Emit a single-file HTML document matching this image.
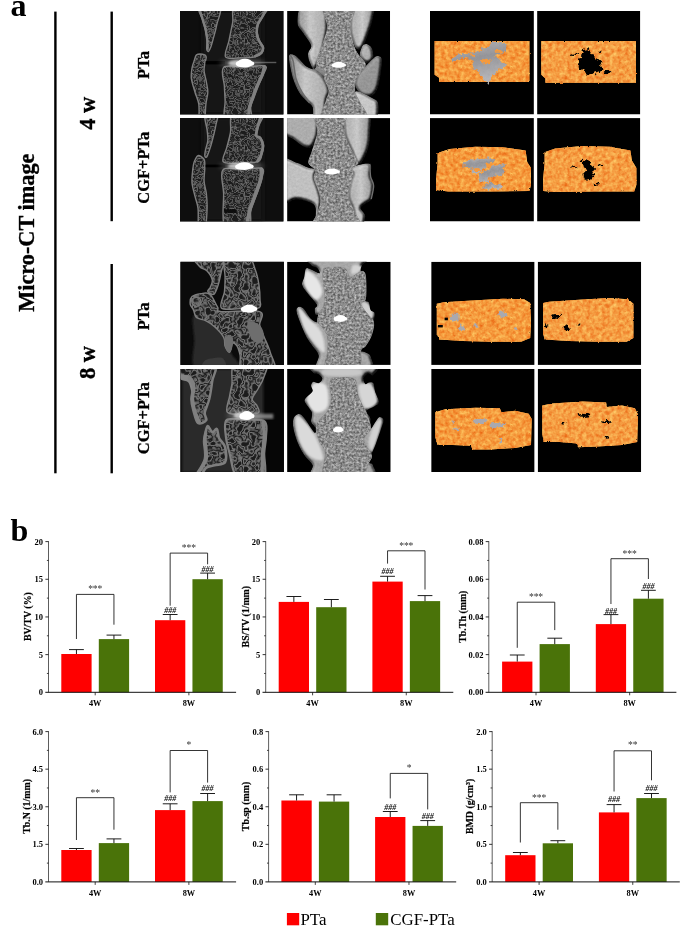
<!DOCTYPE html>
<html><head><meta charset="utf-8"><title>Micro-CT figure</title>
<style>
html,body{margin:0;padding:0;background:#fff}
body{width:685px;height:926px;overflow:hidden}
svg{display:block}
</style></head><body>
<svg width="685" height="926" viewBox="0 0 685 926">
<rect width="685" height="926" fill="#fff"/>
<g font-family='&quot;Liberation Serif&quot;, &quot;DejaVu Serif&quot;, serif' font-weight="bold" fill="#000">
<text x="10.5" y="16.3" font-size="32">a</text>
<text x="10.5" y="541" font-size="32">b</text>
<text transform="translate(33.6 232.7) rotate(-90)" text-anchor="middle" font-size="22.3" stroke="#000" stroke-width="0.35">Micro-CT image</text>
<text transform="translate(95 113.2) rotate(-90)" text-anchor="middle" font-size="22.5" stroke="#000" stroke-width="0.35">4 w</text>
<text transform="translate(95 362.5) rotate(-90)" text-anchor="middle" font-size="22.5" stroke="#000" stroke-width="0.35">8 w</text>
<text transform="translate(149.4 65) rotate(-90)" text-anchor="middle" font-size="16.5" stroke="#000" stroke-width="0.3">PTa</text>
<text transform="translate(149.4 167.7) rotate(-90)" text-anchor="middle" font-size="16.5" stroke="#000" stroke-width="0.3">CGF+PTa</text>
<text transform="translate(149.4 316.3) rotate(-90)" text-anchor="middle" font-size="16.5" stroke="#000" stroke-width="0.3">PTa</text>
<text transform="translate(149.4 418.2) rotate(-90)" text-anchor="middle" font-size="16.5" stroke="#000" stroke-width="0.3">CGF+PTa</text>
</g>
<rect x="54.2" y="11.6" width="2.4" height="461.7" fill="#000"/>
<rect x="110.5" y="11.6" width="2.4" height="209.6" fill="#000"/>
<rect x="110.5" y="264" width="2.4" height="209.3" fill="#000"/>

<defs>
<filter id="fTrab" x="-5%" y="-5%" width="110%" height="110%" color-interpolation-filters="sRGB">
  <feTurbulence type="fractalNoise" baseFrequency="0.173" numOctaves="2" seed="7" result="t"/>
  <feComponentTransfer in="t" result="m">
    <feFuncR type="discrete" tableValues="0.54"/><feFuncG type="discrete" tableValues="0.54"/><feFuncB type="discrete" tableValues="0.54"/>
    <feFuncA type="table" tableValues="0 0 0 0 0 0 0.25 0.75 0.25 0 0.55 0.55 0.05 0 0 0 0 0 0"/>
  </feComponentTransfer>
  <feComposite in="m" in2="SourceGraphic" operator="in"/>
</filter>
<filter id="fTrab2" x="-5%" y="-5%" width="110%" height="110%" color-interpolation-filters="sRGB">
  <feTurbulence type="fractalNoise" baseFrequency="0.127" numOctaves="2" seed="4" result="t"/>
  <feComponentTransfer in="t" result="m">
    <feFuncR type="discrete" tableValues="0.52"/><feFuncG type="discrete" tableValues="0.52"/><feFuncB type="discrete" tableValues="0.52"/>
    <feFuncA type="table" tableValues="0 0 0 0 0 0 0.3 0.9 0.6 0 0.6 0.85 0.2 0 0 0 0 0 0"/>
  </feComponentTransfer>
  <feComposite in="m" in2="SourceGraphic" operator="in"/>
</filter>
<filter id="fRough" x="-5%" y="-5%" width="110%" height="110%" color-interpolation-filters="sRGB">
  <feTurbulence type="fractalNoise" baseFrequency="0.43" numOctaves="2" seed="11" result="t"/>
  <feColorMatrix in="t" type="matrix" values="0.66 0 0 0 0.22  0.66 0 0 0 0.22  0.66 0 0 0 0.22  0 0 0 0 1" result="m"/>
  <feComposite in="m" in2="SourceGraphic" operator="in"/>
</filter>
<filter id="fOr" x="-5%" y="-5%" width="110%" height="110%" color-interpolation-filters="sRGB">
  <feTurbulence type="fractalNoise" baseFrequency="0.26" numOctaves="2" seed="5" result="t"/>
  <feColorMatrix in="t" type="matrix" values="0.1 0 0 0 0.91  0.5 0 0 0 0.355  0.42 0 0 0 0.03  0 0 0 0 1" result="m"/>
  <feComposite in="m" in2="SourceGraphic" operator="in"/>
</filter>
<filter id="fOr2" x="-5%" y="-5%" width="110%" height="110%" color-interpolation-filters="sRGB">
  <feTurbulence type="fractalNoise" baseFrequency="0.26" numOctaves="2" seed="9" result="t"/>
  <feColorMatrix in="t" type="matrix" values="0.1 0 0 0 0.91  0.5 0 0 0 0.365  0.42 0 0 0 0.05  0 0 0 0 1" result="m"/>
  <feComposite in="m" in2="SourceGraphic" operator="in"/>
</filter>
<filter id="fEdge" x="-5%" y="-5%" width="110%" height="110%">
  <feTurbulence type="fractalNoise" baseFrequency="0.5" numOctaves="2" seed="3" result="t"/>
  <feDisplacementMap in="SourceGraphic" in2="t" scale="2.2" xChannelSelector="R" yChannelSelector="G"/>
</filter>
<filter id="fEdgeB" x="-15%" y="-15%" width="130%" height="130%">
  <feTurbulence type="fractalNoise" baseFrequency="0.23" numOctaves="3" seed="8" result="t"/>
  <feDisplacementMap in="SourceGraphic" in2="t" scale="7" xChannelSelector="R" yChannelSelector="G"/>
</filter>
<linearGradient id="gBlob" x1="0" y1="0" x2="0.3" y2="1"><stop offset="0" stop-color="#b8b8bc"/><stop offset="0.5" stop-color="#949498"/><stop offset="1" stop-color="#b4b4b8"/></linearGradient>
<filter id="fLit" x="-10%" y="-10%" width="120%" height="120%" color-interpolation-filters="sRGB">
  <feGaussianBlur in="SourceAlpha" stdDeviation="1.6" result="b"/>
  <feDiffuseLighting in="b" surfaceScale="5" diffuseConstant="1.08" lighting-color="#fff" result="l"><feDistantLight azimuth="235" elevation="62"/></feDiffuseLighting>
  <feComposite in="l" in2="SourceGraphic" operator="arithmetic" k1="1" k2="0" k3="0" k4="0" result="m"/>
  <feComposite in="m" in2="SourceAlpha" operator="in"/>
</filter>
<filter id="fB3" x="-10%" y="-10%" width="120%" height="120%"><feGaussianBlur stdDeviation="0.3"/></filter>
<filter id="fB5" x="-10%" y="-10%" width="120%" height="120%"><feGaussianBlur stdDeviation="0.55"/></filter>
<filter id="fB10" x="-20%" y="-20%" width="140%" height="140%"><feGaussianBlur stdDeviation="1.1"/></filter>
<filter id="fB25" x="-30%" y="-30%" width="160%" height="160%"><feGaussianBlur stdDeviation="2.5"/></filter>
<linearGradient id="gWingL" x1="0" y1="0" x2="1" y2="0"><stop offset="0" stop-color="#969696"/><stop offset="0.4" stop-color="#dcdcdc"/><stop offset="1" stop-color="#b4b4b4"/></linearGradient>
<linearGradient id="gWingR" x1="0" y1="0" x2="1" y2="0"><stop offset="0" stop-color="#b4b4b4"/><stop offset="0.5" stop-color="#dedede"/><stop offset="1" stop-color="#9c9c9c"/></linearGradient>
</defs>
<clipPath id="cp1"><rect x="0.00" y="0.00" width="103.50" height="103.50"/></clipPath><g transform="translate(180 11)" clip-path="url(#cp1)"><rect x="0.00" y="0.00" width="103.50" height="103.50" fill="#000"/><rect x="-2" y="-2" width="108" height="108" fill="#0e0e0e"/><rect x="22.6" y="0" width="60.1" height="103" fill="#181818" filter="url(#fB25)"/><g filter="url(#fB3)"><path d="M18.8 -6.0C15.8 -3.5 21.4 4.8 22.6 9.0C23.7 13.3 24.8 16.0 25.6 19.5C26.3 23.1 26.9 26.9 27.1 30.1C27.3 33.2 26.5 36.6 26.8 38.3C27.0 40.0 27.9 40.7 28.6 40.3C29.2 39.9 29.9 38.5 30.8 36.1C31.7 33.6 32.8 29.3 33.8 25.6C34.8 21.8 35.8 18.8 36.8 13.5C37.9 8.3 43.3 -2.8 40.3 -6.0C37.3 -9.3 21.8 -8.5 18.8 -6.0Z" fill="#1b1b1b"/><path d="M18.8 -6.0C15.8 -3.5 21.4 4.8 22.6 9.0C23.7 13.3 24.8 16.0 25.6 19.5C26.3 23.1 26.9 26.9 27.1 30.1C27.3 33.2 26.5 36.6 26.8 38.3C27.0 40.0 27.9 40.7 28.6 40.3C29.2 39.9 29.9 38.5 30.8 36.1C31.7 33.6 32.8 29.3 33.8 25.6C34.8 21.8 35.8 18.8 36.8 13.5C37.9 8.3 43.3 -2.8 40.3 -6.0C37.3 -9.3 21.8 -8.5 18.8 -6.0Z" fill="#fff" filter="url(#fTrab)"/><path d="M18.8 -6.0C15.8 -3.5 21.4 4.8 22.6 9.0C23.7 13.3 24.8 16.0 25.6 19.5C26.3 23.1 26.9 26.9 27.1 30.1C27.3 33.2 26.5 36.6 26.8 38.3C27.0 40.0 27.9 40.7 28.6 40.3C29.2 39.9 29.9 38.5 30.8 36.1C31.7 33.6 32.8 29.3 33.8 25.6C34.8 21.8 35.8 18.8 36.8 13.5C37.9 8.3 43.3 -2.8 40.3 -6.0C37.3 -9.3 21.8 -8.5 18.8 -6.0Z" fill="none" stroke="#7e7e7e" stroke-width="1.4" stroke-linejoin="round"/><path d="M55.9 -6.0C50.2 -3.0 53.8 6.0 52.6 12.0C51.4 18.0 50.0 24.4 48.9 30.1C47.7 35.7 43.7 43.1 45.6 45.9C47.4 48.7 55.2 46.9 60.1 46.9C65.1 46.9 71.5 46.7 75.2 45.9C78.8 45.1 80.6 43.7 81.9 42.1C83.3 40.5 83.8 38.1 83.5 36.1C83.1 34.1 80.7 32.3 79.7 30.1C78.7 27.8 77.7 25.3 77.4 22.6C77.2 19.8 77.2 16.5 78.2 13.5C79.2 10.5 81.9 7.8 83.5 4.5C85.0 1.3 91.8 -4.3 87.2 -6.0C82.6 -7.8 61.7 -9.0 55.9 -6.0Z" fill="#1b1b1b"/><path d="M55.9 -6.0C50.2 -3.0 53.8 6.0 52.6 12.0C51.4 18.0 50.0 24.4 48.9 30.1C47.7 35.7 43.7 43.1 45.6 45.9C47.4 48.7 55.2 46.9 60.1 46.9C65.1 46.9 71.5 46.7 75.2 45.9C78.8 45.1 80.6 43.7 81.9 42.1C83.3 40.5 83.8 38.1 83.5 36.1C83.1 34.1 80.7 32.3 79.7 30.1C78.7 27.8 77.7 25.3 77.4 22.6C77.2 19.8 77.2 16.5 78.2 13.5C79.2 10.5 81.9 7.8 83.5 4.5C85.0 1.3 91.8 -4.3 87.2 -6.0C82.6 -7.8 61.7 -9.0 55.9 -6.0Z" fill="#fff" filter="url(#fTrab)"/><path d="M55.9 -6.0C50.2 -3.0 53.8 6.0 52.6 12.0C51.4 18.0 50.0 24.4 48.9 30.1C47.7 35.7 43.7 43.1 45.6 45.9C47.4 48.7 55.2 46.9 60.1 46.9C65.1 46.9 71.5 46.7 75.2 45.9C78.8 45.1 80.6 43.7 81.9 42.1C83.3 40.5 83.8 38.1 83.5 36.1C83.1 34.1 80.7 32.3 79.7 30.1C78.7 27.8 77.7 25.3 77.4 22.6C77.2 19.8 77.2 16.5 78.2 13.5C79.2 10.5 81.9 7.8 83.5 4.5C85.0 1.3 91.8 -4.3 87.2 -6.0C82.6 -7.8 61.7 -9.0 55.9 -6.0Z" fill="none" stroke="#7e7e7e" stroke-width="1.4" stroke-linejoin="round"/><path d="M16.5 43.9C17.9 42.9 21.0 43.0 22.6 43.3C24.2 43.6 25.8 44.3 26.2 45.9C26.5 47.4 25.2 50.2 24.8 52.6C24.5 55.0 23.8 57.1 24.1 60.1C24.3 63.2 25.7 67.2 26.3 70.7C26.9 74.2 27.9 77.4 27.8 81.2C27.7 85.0 26.4 88.5 25.9 93.2C25.3 98.0 25.4 107.0 24.4 109.8C23.3 112.5 20.5 112.5 19.5 109.8C18.6 107.0 19.5 98.0 18.8 93.2C18.0 88.5 16.3 85.5 15.0 81.2C13.8 76.9 11.9 71.7 11.4 67.7C10.9 63.7 11.6 60.1 12.0 57.1C12.5 54.1 13.5 51.8 14.3 49.6C15.0 47.4 15.2 45.0 16.5 43.9Z" fill="#1b1b1b"/><path d="M16.5 43.9C17.9 42.9 21.0 43.0 22.6 43.3C24.2 43.6 25.8 44.3 26.2 45.9C26.5 47.4 25.2 50.2 24.8 52.6C24.5 55.0 23.8 57.1 24.1 60.1C24.3 63.2 25.7 67.2 26.3 70.7C26.9 74.2 27.9 77.4 27.8 81.2C27.7 85.0 26.4 88.5 25.9 93.2C25.3 98.0 25.4 107.0 24.4 109.8C23.3 112.5 20.5 112.5 19.5 109.8C18.6 107.0 19.5 98.0 18.8 93.2C18.0 88.5 16.3 85.5 15.0 81.2C13.8 76.9 11.9 71.7 11.4 67.7C10.9 63.7 11.6 60.1 12.0 57.1C12.5 54.1 13.5 51.8 14.3 49.6C15.0 47.4 15.2 45.0 16.5 43.9Z" fill="#fff" filter="url(#fTrab)"/><path d="M16.5 43.9C17.9 42.9 21.0 43.0 22.6 43.3C24.2 43.6 25.8 44.3 26.2 45.9C26.5 47.4 25.2 50.2 24.8 52.6C24.5 55.0 23.8 57.1 24.1 60.1C24.3 63.2 25.7 67.2 26.3 70.7C26.9 74.2 27.9 77.4 27.8 81.2C27.7 85.0 26.4 88.5 25.9 93.2C25.3 98.0 25.4 107.0 24.4 109.8C23.3 112.5 20.5 112.5 19.5 109.8C18.6 107.0 19.5 98.0 18.8 93.2C18.0 88.5 16.3 85.5 15.0 81.2C13.8 76.9 11.9 71.7 11.4 67.7C10.9 63.7 11.6 60.1 12.0 57.1C12.5 54.1 13.5 51.8 14.3 49.6C15.0 47.4 15.2 45.0 16.5 43.9Z" fill="none" stroke="#7e7e7e" stroke-width="1.4" stroke-linejoin="round"/><path d="M43.6 56.4C40.2 59.6 44.1 69.5 44.4 75.2C44.6 80.8 44.9 84.5 45.1 90.2C45.4 96.0 41.7 106.5 45.9 109.8C50.0 113.0 65.8 112.0 69.9 109.8C74.1 107.5 70.0 100.0 70.7 96.2C71.3 92.5 72.4 90.7 73.7 87.2C74.9 83.7 76.6 79.2 78.2 75.2C79.8 71.2 82.3 66.5 83.5 63.2C84.6 59.8 88.2 56.1 85.1 54.9C82.0 53.7 71.6 55.7 64.7 55.9C57.7 56.2 47.0 53.2 43.6 56.4Z" fill="#1b1b1b"/><path d="M43.6 56.4C40.2 59.6 44.1 69.5 44.4 75.2C44.6 80.8 44.9 84.5 45.1 90.2C45.4 96.0 41.7 106.5 45.9 109.8C50.0 113.0 65.8 112.0 69.9 109.8C74.1 107.5 70.0 100.0 70.7 96.2C71.3 92.5 72.4 90.7 73.7 87.2C74.9 83.7 76.6 79.2 78.2 75.2C79.8 71.2 82.3 66.5 83.5 63.2C84.6 59.8 88.2 56.1 85.1 54.9C82.0 53.7 71.6 55.7 64.7 55.9C57.7 56.2 47.0 53.2 43.6 56.4Z" fill="#fff" filter="url(#fTrab)"/><path d="M43.6 56.4C40.2 59.6 44.1 69.5 44.4 75.2C44.6 80.8 44.9 84.5 45.1 90.2C45.4 96.0 41.7 106.5 45.9 109.8C50.0 113.0 65.8 112.0 69.9 109.8C74.1 107.5 70.0 100.0 70.7 96.2C71.3 92.5 72.4 90.7 73.7 87.2C74.9 83.7 76.6 79.2 78.2 75.2C79.8 71.2 82.3 66.5 83.5 63.2C84.6 59.8 88.2 56.1 85.1 54.9C82.0 53.7 71.6 55.7 64.7 55.9C57.7 56.2 47.0 53.2 43.6 56.4Z" fill="none" stroke="#7e7e7e" stroke-width="1.4" stroke-linejoin="round"/><path d="M86.0 -3.0C85.5 -1.8 84.4 1.8 83.0 4.5C81.6 7.3 78.8 10.5 77.7 13.5C76.7 16.5 76.6 19.8 76.8 22.6C77.1 25.3 78.1 27.8 79.1 30.1C80.1 32.3 82.3 34.1 82.7 36.1C83.1 38.0 82.5 40.3 81.2 41.8C79.9 43.3 76.2 44.6 75.2 45.1" fill="none" stroke="#808080" stroke-width="2.6" stroke-linecap="round"/><path d="M84.2 55.6C83.9 56.9 83.6 59.9 82.4 63.2C81.2 66.4 78.6 71.2 77.0 75.2C75.3 79.2 73.7 83.7 72.5 87.2C71.2 90.7 70.1 93.2 69.5 96.2C68.8 99.2 68.7 103.8 68.6 105.3" fill="none" stroke="#808080" stroke-width="3.2" stroke-linecap="round"/><path d="M19.2 -3.0C19.8 -1.0 21.8 5.3 22.9 9.0C24.0 12.8 25.1 16.0 25.9 19.5C26.6 23.1 27.1 27.1 27.4 30.1C27.6 33.1 27.4 36.3 27.4 37.6" fill="none" stroke="#808080" stroke-width="2.4" stroke-linecap="round"/><rect x="25.6" y="50.1" width="19.5" height="3.3" fill="#050505" filter="url(#fB5)"/></g><rect x="70.7" y="50.8" width="25.6" height="1.4" fill="#5a5a5a" filter="url(#fB5)"/><ellipse cx="62.2" cy="52.2" rx="22.4" ry="3.5" fill="#aaa" opacity="0.5" filter="url(#fB25)"/><ellipse cx="60.3" cy="52.2" rx="12.1" ry="3.5" fill="#ddd" opacity="0.8" filter="url(#fB10)"/><g filter="url(#fB5)" transform="rotate(0 65.0 52.2)" fill="#fff"><ellipse cx="65.0" cy="52.2" rx="7.5" ry="4.4"/><ellipse cx="60.8" cy="52.8" rx="5.1" ry="3.1"/><ellipse cx="69.6" cy="52.6" rx="4.7" ry="2.4"/></g></g><clipPath id="cp2"><rect x="0.10" y="0.00" width="103.00" height="103.50"/></clipPath><g transform="translate(287 11)" clip-path="url(#cp2)"><rect x="0.10" y="0.00" width="103.00" height="103.50" fill="#000"/><g filter="url(#fB3)"><path d="M25.6 45.1L40.6 45.1L40.6 70.7L25.6 60.1Z" fill="#8c8c8c" filter="url(#fLit)"/><path d="M15.0 -6.0C10.7 -3.0 10.3 7.3 10.5 12.0C10.8 16.8 14.3 18.8 16.5 22.6C18.8 26.3 23.3 31.3 24.1 34.6C24.8 37.8 21.3 39.3 21.1 42.1C20.8 44.9 21.4 48.5 22.6 51.1C23.7 53.8 25.8 58.9 27.8 57.9C29.8 56.9 32.8 49.7 34.6 45.1C36.3 40.5 37.3 35.1 38.3 30.1C39.3 25.1 40.8 21.1 40.6 15.0C40.3 9.0 41.1 -2.5 36.8 -6.0C32.6 -9.5 19.4 -9.0 15.0 -6.0Z" fill="url(#gWingL)" filter="url(#fLit)"/><path d="M66.2 -6.0C62.4 -2.5 63.4 9.5 63.2 15.0C62.9 20.5 63.7 23.3 64.7 27.1C65.7 30.8 67.4 36.0 69.2 37.6C70.9 39.2 73.2 39.3 75.2 36.8C77.2 34.3 79.4 27.4 81.2 22.6C83.0 17.7 84.9 12.3 85.7 7.5C86.5 2.8 89.3 -3.8 86.0 -6.0C82.8 -8.3 70.0 -9.5 66.2 -6.0Z" fill="url(#gWingR)" filter="url(#fLit)"/><path d="M75.2 35.3C76.3 33.3 78.1 32.7 79.7 33.1C81.3 33.5 83.9 35.1 85.0 37.6C86.0 40.1 86.9 45.7 86.0 48.1C85.1 50.5 81.9 52.4 79.7 51.9C77.5 51.4 73.7 47.9 72.9 45.1C72.2 42.4 74.1 37.3 75.2 35.3Z" fill="#c0c0c0" filter="url(#fLit)"/><path d="M85.7 48.1C87.7 46.4 88.7 45.1 90.2 45.1C91.7 45.1 94.2 45.1 94.7 48.1C95.3 51.1 94.3 58.1 93.5 63.2C92.8 68.2 91.8 74.6 90.2 78.2C88.7 81.8 86.7 84.0 84.2 85.0C81.7 86.0 77.8 85.8 75.2 84.2C72.6 82.6 69.2 78.4 68.4 75.2C67.7 71.9 69.0 67.9 70.7 64.7C72.3 61.4 75.7 58.4 78.2 55.6C80.7 52.9 83.7 49.9 85.7 48.1Z" fill="#a0a0a0" filter="url(#fLit)"/><path d="M67.7 81.2C69.4 77.4 81.8 85.2 85.7 87.2C89.6 89.2 90.7 89.5 91.3 93.2C91.8 97.0 91.7 107.0 89.0 109.8C86.3 112.5 78.7 114.5 75.2 109.8C71.6 105.0 65.9 85.0 67.7 81.2Z" fill="#dcdcdc" filter="url(#fLit)"/><path d="M3.0 43.6C4.2 42.9 6.3 43.1 9.0 45.1C11.8 47.1 16.0 53.1 19.5 55.6C23.1 58.1 27.1 58.1 30.1 60.1C33.1 62.2 35.5 64.4 37.6 67.7C39.6 70.9 42.1 75.9 42.4 79.7C42.7 83.5 40.3 85.2 39.4 90.2C38.5 95.2 38.9 106.5 36.8 109.8C34.8 113.0 28.9 112.0 27.1 109.8C25.2 107.5 26.8 99.5 25.6 96.2C24.3 93.0 21.8 92.7 19.5 90.2C17.3 87.7 14.3 85.0 12.0 81.2C9.8 77.4 7.7 72.9 6.0 67.7C4.4 62.4 2.6 53.6 2.1 49.6C1.6 45.6 1.9 44.4 3.0 43.6Z" fill="url(#gWingL)" filter="url(#fLit)"/><path d="M25.6 45.1L40.6 45.1L40.6 70.7L25.6 60.1Z" fill="#fff" filter="url(#fRough)" opacity="0.15"/><path d="M15.0 -6.0C10.7 -3.0 10.3 7.3 10.5 12.0C10.8 16.8 14.3 18.8 16.5 22.6C18.8 26.3 23.3 31.3 24.1 34.6C24.8 37.8 21.3 39.3 21.1 42.1C20.8 44.9 21.4 48.5 22.6 51.1C23.7 53.8 25.8 58.9 27.8 57.9C29.8 56.9 32.8 49.7 34.6 45.1C36.3 40.5 37.3 35.1 38.3 30.1C39.3 25.1 40.8 21.1 40.6 15.0C40.3 9.0 41.1 -2.5 36.8 -6.0C32.6 -9.5 19.4 -9.0 15.0 -6.0Z" fill="#fff" filter="url(#fRough)" opacity="0.15"/><path d="M66.2 -6.0C62.4 -2.5 63.4 9.5 63.2 15.0C62.9 20.5 63.7 23.3 64.7 27.1C65.7 30.8 67.4 36.0 69.2 37.6C70.9 39.2 73.2 39.3 75.2 36.8C77.2 34.3 79.4 27.4 81.2 22.6C83.0 17.7 84.9 12.3 85.7 7.5C86.5 2.8 89.3 -3.8 86.0 -6.0C82.8 -8.3 70.0 -9.5 66.2 -6.0Z" fill="#fff" filter="url(#fRough)" opacity="0.15"/><path d="M75.2 35.3C76.3 33.3 78.1 32.7 79.7 33.1C81.3 33.5 83.9 35.1 85.0 37.6C86.0 40.1 86.9 45.7 86.0 48.1C85.1 50.5 81.9 52.4 79.7 51.9C77.5 51.4 73.7 47.9 72.9 45.1C72.2 42.4 74.1 37.3 75.2 35.3Z" fill="#fff" filter="url(#fRough)" opacity="0.15"/><path d="M85.7 48.1C87.7 46.4 88.7 45.1 90.2 45.1C91.7 45.1 94.2 45.1 94.7 48.1C95.3 51.1 94.3 58.1 93.5 63.2C92.8 68.2 91.8 74.6 90.2 78.2C88.7 81.8 86.7 84.0 84.2 85.0C81.7 86.0 77.8 85.8 75.2 84.2C72.6 82.6 69.2 78.4 68.4 75.2C67.7 71.9 69.0 67.9 70.7 64.7C72.3 61.4 75.7 58.4 78.2 55.6C80.7 52.9 83.7 49.9 85.7 48.1Z" fill="#fff" filter="url(#fRough)" opacity="0.15"/><path d="M67.7 81.2C69.4 77.4 81.8 85.2 85.7 87.2C89.6 89.2 90.7 89.5 91.3 93.2C91.8 97.0 91.7 107.0 89.0 109.8C86.3 112.5 78.7 114.5 75.2 109.8C71.6 105.0 65.9 85.0 67.7 81.2Z" fill="#fff" filter="url(#fRough)" opacity="0.15"/><path d="M3.0 43.6C4.2 42.9 6.3 43.1 9.0 45.1C11.8 47.1 16.0 53.1 19.5 55.6C23.1 58.1 27.1 58.1 30.1 60.1C33.1 62.2 35.5 64.4 37.6 67.7C39.6 70.9 42.1 75.9 42.4 79.7C42.7 83.5 40.3 85.2 39.4 90.2C38.5 95.2 38.9 106.5 36.8 109.8C34.8 113.0 28.9 112.0 27.1 109.8C25.2 107.5 26.8 99.5 25.6 96.2C24.3 93.0 21.8 92.7 19.5 90.2C17.3 87.7 14.3 85.0 12.0 81.2C9.8 77.4 7.7 72.9 6.0 67.7C4.4 62.4 2.6 53.6 2.1 49.6C1.6 45.6 1.9 44.4 3.0 43.6Z" fill="#fff" filter="url(#fRough)" opacity="0.15"/><path d="M36.8 -6.0C32.5 -2.5 40.6 9.0 40.6 15.0C40.6 21.1 38.3 25.1 36.8 30.1C35.3 35.1 32.7 40.8 31.6 45.1C30.4 49.4 29.1 53.1 30.1 55.6C31.1 58.1 36.3 58.1 37.6 60.1C38.8 62.2 36.8 64.4 37.6 67.7C38.3 70.9 41.9 75.9 42.1 79.7C42.4 83.5 40.1 85.2 39.1 90.2C38.1 95.2 29.4 106.5 36.1 109.8C42.7 113.0 72.9 113.0 78.9 109.8C85.0 106.5 74.1 95.0 72.2 90.2C70.3 85.5 68.2 85.0 67.7 81.2C67.2 77.4 67.9 71.2 69.2 67.7C70.4 64.2 73.7 62.7 75.2 60.1C76.7 57.6 78.7 55.1 78.2 52.6C77.7 50.1 73.9 47.6 72.2 45.1C70.4 42.6 68.9 40.6 67.7 37.6C66.4 34.6 65.4 30.8 64.7 27.1C63.9 23.3 62.9 20.5 63.2 15.0C63.5 9.5 70.8 -2.5 66.5 -6.0C62.1 -9.5 41.1 -9.5 36.8 -6.0Z" fill="#8e8e8e" stroke="#8e8e8e" stroke-width="1"/><path d="M36.8 -6.0C32.5 -2.5 40.6 9.0 40.6 15.0C40.6 21.1 38.3 25.1 36.8 30.1C35.3 35.1 32.7 40.8 31.6 45.1C30.4 49.4 29.1 53.1 30.1 55.6C31.1 58.1 36.3 58.1 37.6 60.1C38.8 62.2 36.8 64.4 37.6 67.7C38.3 70.9 41.9 75.9 42.1 79.7C42.4 83.5 40.1 85.2 39.1 90.2C38.1 95.2 29.4 106.5 36.1 109.8C42.7 113.0 72.9 113.0 78.9 109.8C85.0 106.5 74.1 95.0 72.2 90.2C70.3 85.5 68.2 85.0 67.7 81.2C67.2 77.4 67.9 71.2 69.2 67.7C70.4 64.2 73.7 62.7 75.2 60.1C76.7 57.6 78.7 55.1 78.2 52.6C77.7 50.1 73.9 47.6 72.2 45.1C70.4 42.6 68.9 40.6 67.7 37.6C66.4 34.6 65.4 30.8 64.7 27.1C63.9 23.3 62.9 20.5 63.2 15.0C63.5 9.5 70.8 -2.5 66.5 -6.0C62.1 -9.5 41.1 -9.5 36.8 -6.0Z" fill="#fff" filter="url(#fRough)"/><path d="M3.0 43.6C3.5 44.6 5.0 45.6 6.0 49.6C7.0 53.6 7.5 62.4 9.0 67.7C10.5 72.9 12.8 77.2 15.0 81.2C17.3 85.2 21.3 90.0 22.6 91.7" fill="none" stroke="#6a6a6a" stroke-width="1.6"/></g><g filter="url(#fB5)" transform="rotate(0 51.9 53.8)" fill="#fff"><ellipse cx="51.9" cy="53.8" rx="5.8" ry="3.0"/><ellipse cx="48.6" cy="54.3" rx="4.0" ry="2.1"/><ellipse cx="55.5" cy="54.1" rx="3.6" ry="1.7"/></g></g><clipPath id="cp3"><rect x="0.00" y="0.00" width="103.90" height="103.50"/></clipPath><g transform="translate(430 11)" clip-path="url(#cp3)"><rect x="0.00" y="0.00" width="103.90" height="103.50" fill="#000"/><g filter="url(#fB3)"><g filter="url(#fEdge)"><path d="M4.6 30.1L99.4 30.1L99.4 71.1L9.1 71.1L9.1 66.8L4.6 63.8Z" fill="#f6a040"/></g><g filter="url(#fEdge)"><path d="M4.6 30.1L99.4 30.1L99.4 71.1L9.1 71.1L9.1 66.8L4.6 63.8Z" fill="#fff" filter="url(#fOr)"/></g><g filter="url(#fEdgeB)"><path d="M66.8 30.4C70.3 30.1 76.4 32.9 77.4 34.9C78.4 36.9 74.9 41.0 72.9 42.5C70.9 44.0 65.5 42.8 65.3 44.0C65.0 45.3 69.8 48.1 71.4 50.1C72.9 52.1 75.2 54.4 74.4 56.2C73.6 57.9 68.8 59.0 66.8 60.7C64.8 62.5 63.8 65.0 62.2 66.8C60.7 68.6 59.5 71.4 57.7 71.4C55.9 71.4 52.9 68.6 51.6 66.8C50.4 65.0 51.4 62.2 50.1 60.7C48.8 59.2 45.3 59.5 44.0 57.7C42.8 55.9 44.0 51.9 42.5 50.1C41.0 48.3 38.0 47.1 34.9 47.1C31.9 47.1 26.3 50.4 24.3 50.1C22.3 49.8 21.3 46.8 22.8 45.5C24.3 44.3 29.9 43.3 33.4 42.5C36.9 41.8 40.2 42.0 44.0 41.0C47.8 40.0 52.4 38.2 56.2 36.4C60.0 34.7 63.3 30.6 66.8 30.4Z" fill="url(#gBlob)"/></g><g filter="url(#fEdgeB)"><ellipse cx="55.8" cy="50.1" rx="4.9" ry="2.3" fill="#f59a3c"/></g><g filter="url(#fEdgeB)"><ellipse cx="68.7" cy="40.2" rx="4.2" ry="1.5" fill="#f59a3c"/></g><g filter="url(#fEdgeB)"><ellipse cx="42.1" cy="44.4" rx="3.4" ry="1.1" fill="#f59a3c"/></g><g filter="url(#fEdgeB)"><ellipse cx="69.8" cy="58.5" rx="3.0" ry="1.5" fill="#f59a3c"/></g><g filter="url(#fEdgeB)"><ellipse cx="48.2" cy="62.6" rx="2.7" ry="1.9" fill="#f59a3c"/></g></g></g><clipPath id="cp4"><rect x="0.10" y="0.00" width="103.20" height="103.50"/></clipPath><g transform="translate(537 11)" clip-path="url(#cp4)"><rect x="0.10" y="0.00" width="103.20" height="103.50" fill="#000"/><g filter="url(#fB3)"><g filter="url(#fEdge)"><path d="M4.3 30.1L99.0 30.1L99.0 71.7L8.4 71.7L8.4 67.6L4.3 63.8Z" fill="#f6a040"/></g><g filter="url(#fEdge)"><path d="M4.3 30.1L99.0 30.1L99.0 71.7L8.4 71.7L8.4 67.6L4.3 63.8Z" fill="#fff" filter="url(#fOr2)"/></g><g filter="url(#fEdgeB)"><path d="M45.5 39.5C47.1 38.3 51.4 38.0 53.1 38.7C54.9 39.5 54.9 42.4 56.2 44.0C57.4 45.7 59.2 47.1 60.7 48.6C62.2 50.1 64.8 51.4 65.3 53.1C65.8 54.9 65.3 57.7 63.8 59.2C62.2 60.7 58.2 61.6 56.2 62.2C54.2 62.9 53.1 63.5 51.6 63.0C50.1 62.5 48.8 60.4 47.1 59.2C45.3 58.1 41.9 57.7 41.0 56.2C40.1 54.7 41.2 51.9 41.8 50.1C42.3 48.3 43.4 47.3 44.0 45.5C44.7 43.8 44.0 40.6 45.5 39.5Z" fill="#000"/></g><g filter="url(#fEdgeB)"><ellipse cx="37.6" cy="43.7" rx="3.4" ry="1.2" fill="#000"/></g><g filter="url(#fEdgeB)"><ellipse cx="70.6" cy="61.1" rx="3.8" ry="1.4" fill="#000"/></g><g filter="url(#fEdgeB)"><ellipse cx="63.0" cy="40.0" rx="1.5" ry="1.0" fill="#000"/></g></g></g><clipPath id="cp5"><rect x="0.00" y="0.10" width="103.50" height="103.40"/></clipPath><g transform="translate(180 118)" clip-path="url(#cp5)"><rect x="0.00" y="0.10" width="103.50" height="103.40" fill="#000"/><rect x="-2" y="-2" width="108" height="108" fill="#0e0e0e"/><rect x="22.6" y="0" width="60.1" height="103" fill="#181818" filter="url(#fB25)"/><g filter="url(#fB3)"><path d="M24.8 -6.0C23.1 -3.0 26.6 7.3 27.1 12.0C27.6 16.8 28.1 19.3 27.8 22.6C27.6 25.8 26.1 29.1 25.6 31.6C25.1 34.1 24.6 36.4 24.8 37.6C25.0 38.8 25.9 40.0 26.8 38.8C27.6 37.5 28.9 33.8 30.1 30.1C31.3 26.4 32.8 20.5 33.8 16.5C34.8 12.5 35.5 9.8 36.1 6.0C36.7 2.3 39.5 -4.0 37.6 -6.0C35.7 -8.0 26.6 -9.0 24.8 -6.0Z" fill="#1b1b1b"/><path d="M24.8 -6.0C23.1 -3.0 26.6 7.3 27.1 12.0C27.6 16.8 28.1 19.3 27.8 22.6C27.6 25.8 26.1 29.1 25.6 31.6C25.1 34.1 24.6 36.4 24.8 37.6C25.0 38.8 25.9 40.0 26.8 38.8C27.6 37.5 28.9 33.8 30.1 30.1C31.3 26.4 32.8 20.5 33.8 16.5C34.8 12.5 35.5 9.8 36.1 6.0C36.7 2.3 39.5 -4.0 37.6 -6.0C35.7 -8.0 26.6 -9.0 24.8 -6.0Z" fill="#fff" filter="url(#fTrab)"/><path d="M24.8 -6.0C23.1 -3.0 26.6 7.3 27.1 12.0C27.6 16.8 28.1 19.3 27.8 22.6C27.6 25.8 26.1 29.1 25.6 31.6C25.1 34.1 24.6 36.4 24.8 37.6C25.0 38.8 25.9 40.0 26.8 38.8C27.6 37.5 28.9 33.8 30.1 30.1C31.3 26.4 32.8 20.5 33.8 16.5C34.8 12.5 35.5 9.8 36.1 6.0C36.7 2.3 39.5 -4.0 37.6 -6.0C35.7 -8.0 26.6 -9.0 24.8 -6.0Z" fill="none" stroke="#7e7e7e" stroke-width="1.4" stroke-linejoin="round"/><path d="M53.7 -6.0C48.3 -2.5 51.6 9.0 50.4 15.0C49.2 21.1 47.8 25.3 46.6 30.1C45.4 34.9 41.0 41.4 43.3 43.9C45.6 46.4 54.3 45.2 60.1 45.1C66.0 45.1 74.6 45.1 78.2 43.6C81.8 42.1 81.1 38.8 81.9 36.1C82.8 33.3 83.7 29.8 83.5 27.1C83.2 24.3 81.6 21.1 80.4 19.5C79.3 18.0 77.1 19.8 76.7 18.0C76.3 16.3 77.2 13.0 78.2 9.0C79.1 5.0 86.5 -3.5 82.4 -6.0C78.3 -8.5 59.0 -9.5 53.7 -6.0Z" fill="#1b1b1b"/><path d="M53.7 -6.0C48.3 -2.5 51.6 9.0 50.4 15.0C49.2 21.1 47.8 25.3 46.6 30.1C45.4 34.9 41.0 41.4 43.3 43.9C45.6 46.4 54.3 45.2 60.1 45.1C66.0 45.1 74.6 45.1 78.2 43.6C81.8 42.1 81.1 38.8 81.9 36.1C82.8 33.3 83.7 29.8 83.5 27.1C83.2 24.3 81.6 21.1 80.4 19.5C79.3 18.0 77.1 19.8 76.7 18.0C76.3 16.3 77.2 13.0 78.2 9.0C79.1 5.0 86.5 -3.5 82.4 -6.0C78.3 -8.5 59.0 -9.5 53.7 -6.0Z" fill="#fff" filter="url(#fTrab)"/><path d="M53.7 -6.0C48.3 -2.5 51.6 9.0 50.4 15.0C49.2 21.1 47.8 25.3 46.6 30.1C45.4 34.9 41.0 41.4 43.3 43.9C45.6 46.4 54.3 45.2 60.1 45.1C66.0 45.1 74.6 45.1 78.2 43.6C81.8 42.1 81.1 38.8 81.9 36.1C82.8 33.3 83.7 29.8 83.5 27.1C83.2 24.3 81.6 21.1 80.4 19.5C79.3 18.0 77.1 19.8 76.7 18.0C76.3 16.3 77.2 13.0 78.2 9.0C79.1 5.0 86.5 -3.5 82.4 -6.0C78.3 -8.5 59.0 -9.5 53.7 -6.0Z" fill="none" stroke="#7e7e7e" stroke-width="1.4" stroke-linejoin="round"/><path d="M18.0 37.6C19.7 37.2 22.9 39.3 24.1 41.4C25.2 43.4 24.8 46.0 24.8 49.6C24.8 53.3 23.8 58.9 24.1 63.2C24.3 67.4 25.8 70.7 26.3 75.2C26.8 79.7 27.3 84.5 27.1 90.2C26.9 96.0 26.5 106.5 25.1 109.8C23.7 113.0 20.0 113.0 18.8 109.8C17.6 106.5 18.7 95.5 18.0 90.2C17.4 85.0 16.0 82.5 15.0 78.2C14.0 73.9 12.4 69.2 12.0 64.7C11.7 60.1 12.4 54.6 12.8 51.1C13.2 47.6 13.4 45.9 14.3 43.6C15.2 41.4 16.4 38.0 18.0 37.6Z" fill="#1b1b1b"/><path d="M18.0 37.6C19.7 37.2 22.9 39.3 24.1 41.4C25.2 43.4 24.8 46.0 24.8 49.6C24.8 53.3 23.8 58.9 24.1 63.2C24.3 67.4 25.8 70.7 26.3 75.2C26.8 79.7 27.3 84.5 27.1 90.2C26.9 96.0 26.5 106.5 25.1 109.8C23.7 113.0 20.0 113.0 18.8 109.8C17.6 106.5 18.7 95.5 18.0 90.2C17.4 85.0 16.0 82.5 15.0 78.2C14.0 73.9 12.4 69.2 12.0 64.7C11.7 60.1 12.4 54.6 12.8 51.1C13.2 47.6 13.4 45.9 14.3 43.6C15.2 41.4 16.4 38.0 18.0 37.6Z" fill="#fff" filter="url(#fTrab)"/><path d="M18.0 37.6C19.7 37.2 22.9 39.3 24.1 41.4C25.2 43.4 24.8 46.0 24.8 49.6C24.8 53.3 23.8 58.9 24.1 63.2C24.3 67.4 25.8 70.7 26.3 75.2C26.8 79.7 27.3 84.5 27.1 90.2C26.9 96.0 26.5 106.5 25.1 109.8C23.7 113.0 20.0 113.0 18.8 109.8C17.6 106.5 18.7 95.5 18.0 90.2C17.4 85.0 16.0 82.5 15.0 78.2C14.0 73.9 12.4 69.2 12.0 64.7C11.7 60.1 12.4 54.6 12.8 51.1C13.2 47.6 13.4 45.9 14.3 43.6C15.2 41.4 16.4 38.0 18.0 37.6Z" fill="none" stroke="#7e7e7e" stroke-width="1.4" stroke-linejoin="round"/><path d="M42.9 51.9C39.6 55.8 43.2 65.5 43.6 75.2C44.0 84.8 41.0 104.0 45.1 109.8C49.2 115.5 64.2 112.5 68.4 109.8C72.7 107.0 69.8 97.5 70.7 93.2C71.5 89.0 72.4 87.7 73.7 84.2C74.9 80.7 76.8 76.2 78.2 72.2C79.6 68.2 81.3 63.8 81.9 60.1C82.6 56.5 85.4 51.8 82.2 50.4C79.1 48.9 69.7 51.2 63.2 51.4C56.6 51.7 46.1 47.9 42.9 51.9Z" fill="#1b1b1b"/><path d="M42.9 51.9C39.6 55.8 43.2 65.5 43.6 75.2C44.0 84.8 41.0 104.0 45.1 109.8C49.2 115.5 64.2 112.5 68.4 109.8C72.7 107.0 69.8 97.5 70.7 93.2C71.5 89.0 72.4 87.7 73.7 84.2C74.9 80.7 76.8 76.2 78.2 72.2C79.6 68.2 81.3 63.8 81.9 60.1C82.6 56.5 85.4 51.8 82.2 50.4C79.1 48.9 69.7 51.2 63.2 51.4C56.6 51.7 46.1 47.9 42.9 51.9Z" fill="#fff" filter="url(#fTrab)"/><path d="M42.9 51.9C39.6 55.8 43.2 65.5 43.6 75.2C44.0 84.8 41.0 104.0 45.1 109.8C49.2 115.5 64.2 112.5 68.4 109.8C72.7 107.0 69.8 97.5 70.7 93.2C71.5 89.0 72.4 87.7 73.7 84.2C74.9 80.7 76.8 76.2 78.2 72.2C79.6 68.2 81.3 63.8 81.9 60.1C82.6 56.5 85.4 51.8 82.2 50.4C79.1 48.9 69.7 51.2 63.2 51.4C56.6 51.7 46.1 47.9 42.9 51.9Z" fill="none" stroke="#7e7e7e" stroke-width="1.4" stroke-linejoin="round"/><path d="M81.3 -3.0C80.7 -1.0 78.4 5.6 77.6 9.0C76.7 12.5 75.8 15.9 76.2 17.7C76.6 19.5 78.9 18.3 80.0 19.8C81.1 21.4 82.6 24.4 82.9 27.1C83.1 29.8 82.2 33.4 81.3 36.1C80.5 38.7 78.2 41.9 77.6 43.0" fill="none" stroke="#808080" stroke-width="2.8" stroke-linecap="round"/><path d="M81.2 51.1C81.1 52.6 81.6 56.6 80.9 60.1C80.2 63.7 78.4 68.2 77.0 72.2C75.6 76.2 73.7 80.7 72.5 84.2C71.2 87.7 70.3 89.7 69.5 93.2C68.6 96.7 67.6 103.3 67.2 105.3" fill="none" stroke="#808080" stroke-width="3.6" stroke-linecap="round"/><rect x="25.6" y="46.6" width="19.5" height="2.7" fill="#050505" filter="url(#fB5)"/><rect x="44.4" y="91.4" width="12.0" height="3.3" fill="#080808" filter="url(#fB5)"/></g><ellipse cx="61.6" cy="48.1" rx="22.4" ry="3.1" fill="#aaa" opacity="0.5" filter="url(#fB25)"/><ellipse cx="59.7" cy="48.1" rx="12.1" ry="3.1" fill="#ddd" opacity="0.8" filter="url(#fB10)"/><g filter="url(#fB5)" transform="rotate(0 64.4 48.1)" fill="#fff"><ellipse cx="64.4" cy="48.1" rx="7.5" ry="3.9"/><ellipse cx="60.2" cy="48.7" rx="5.1" ry="2.7"/><ellipse cx="69.0" cy="48.5" rx="4.7" ry="2.2"/></g></g><clipPath id="cp6"><rect x="0.10" y="0.10" width="103.00" height="103.40"/></clipPath><g transform="translate(287 118)" clip-path="url(#cp6)"><rect x="0.10" y="0.10" width="103.00" height="103.40" fill="#000"/><g filter="url(#fB3)"><path d="M-6.0 -6.0C-11.7 -2.8 -8.0 9.0 -6.0 13.5C-4.0 18.0 2.3 18.5 6.0 21.1C9.8 23.6 13.5 27.2 16.5 28.6C19.5 29.9 22.1 30.3 24.1 29.3C26.1 28.3 27.4 25.4 28.6 22.6C29.7 19.7 31.2 16.8 31.1 12.0C31.1 7.3 34.3 -3.0 28.1 -6.0C21.9 -9.0 -0.3 -9.3 -6.0 -6.0Z" fill="#bcbcbc" filter="url(#fLit)"/><path d="M57.9 -6.0C53.8 -3.8 57.0 3.3 57.1 7.5C57.3 11.8 57.4 15.3 58.6 19.5C59.9 23.8 62.7 28.7 64.7 33.1C66.7 37.5 68.9 44.1 70.7 45.9C72.4 47.6 73.4 46.2 75.2 43.6C76.9 41.0 79.9 34.8 81.2 30.1C82.5 25.3 83.0 21.1 83.0 15.0C83.1 9.0 85.7 -2.5 81.5 -6.0C77.3 -9.5 62.0 -8.3 57.9 -6.0Z" fill="url(#gWingR)" filter="url(#fLit)"/><path d="M-6.0 42.9C-3.5 36.3 4.5 43.2 9.0 44.4C13.5 45.5 17.7 48.4 21.1 49.6C24.4 50.9 28.2 50.1 29.3 51.9C30.4 53.6 27.4 56.8 27.8 60.1C28.2 63.5 30.8 68.2 31.9 72.2C33.0 76.2 34.5 80.2 34.3 84.2C34.1 88.2 31.9 92.0 30.8 96.2C29.7 100.5 28.2 110.8 27.8 109.8C27.4 108.8 29.4 94.5 28.6 90.2C27.7 86.0 25.8 85.7 22.6 84.2C19.3 82.7 13.8 81.2 9.0 81.2C4.3 81.1 -3.5 90.3 -6.0 83.9C-8.5 77.5 -8.5 49.4 -6.0 42.9Z" fill="#d4d4d4" filter="url(#fLit)"/><path d="M63.9 49.9C66.7 48.0 79.4 44.4 82.7 45.9C86.0 47.3 83.0 55.0 83.6 58.6C84.3 62.3 86.5 63.9 86.6 67.7C86.7 71.4 85.6 78.2 84.2 81.2C82.8 84.2 79.9 84.2 78.2 85.7C76.4 87.2 73.7 88.2 73.7 90.2C73.7 92.2 77.9 94.5 78.2 97.7C78.4 101.0 76.6 107.8 75.2 109.8C73.8 111.8 71.4 112.8 69.9 109.8C68.4 106.8 67.5 96.7 66.2 91.7C64.8 86.7 62.2 84.0 61.6 79.7C61.1 75.4 62.4 69.9 63.2 66.2C63.9 62.4 66.0 59.8 66.2 57.1C66.3 54.4 61.1 51.8 63.9 49.9Z" fill="url(#gWingR)" filter="url(#fLit)"/><path d="M-6.0 -6.0C-11.7 -2.8 -8.0 9.0 -6.0 13.5C-4.0 18.0 2.3 18.5 6.0 21.1C9.8 23.6 13.5 27.2 16.5 28.6C19.5 29.9 22.1 30.3 24.1 29.3C26.1 28.3 27.4 25.4 28.6 22.6C29.7 19.7 31.2 16.8 31.1 12.0C31.1 7.3 34.3 -3.0 28.1 -6.0C21.9 -9.0 -0.3 -9.3 -6.0 -6.0Z" fill="#fff" filter="url(#fRough)" opacity="0.15"/><path d="M57.9 -6.0C53.8 -3.8 57.0 3.3 57.1 7.5C57.3 11.8 57.4 15.3 58.6 19.5C59.9 23.8 62.7 28.7 64.7 33.1C66.7 37.5 68.9 44.1 70.7 45.9C72.4 47.6 73.4 46.2 75.2 43.6C76.9 41.0 79.9 34.8 81.2 30.1C82.5 25.3 83.0 21.1 83.0 15.0C83.1 9.0 85.7 -2.5 81.5 -6.0C77.3 -9.5 62.0 -8.3 57.9 -6.0Z" fill="#fff" filter="url(#fRough)" opacity="0.15"/><path d="M-6.0 42.9C-3.5 36.3 4.5 43.2 9.0 44.4C13.5 45.5 17.7 48.4 21.1 49.6C24.4 50.9 28.2 50.1 29.3 51.9C30.4 53.6 27.4 56.8 27.8 60.1C28.2 63.5 30.8 68.2 31.9 72.2C33.0 76.2 34.5 80.2 34.3 84.2C34.1 88.2 31.9 92.0 30.8 96.2C29.7 100.5 28.2 110.8 27.8 109.8C27.4 108.8 29.4 94.5 28.6 90.2C27.7 86.0 25.8 85.7 22.6 84.2C19.3 82.7 13.8 81.2 9.0 81.2C4.3 81.1 -3.5 90.3 -6.0 83.9C-8.5 77.5 -8.5 49.4 -6.0 42.9Z" fill="#fff" filter="url(#fRough)" opacity="0.15"/><path d="M63.9 49.9C66.7 48.0 79.4 44.4 82.7 45.9C86.0 47.3 83.0 55.0 83.6 58.6C84.3 62.3 86.5 63.9 86.6 67.7C86.7 71.4 85.6 78.2 84.2 81.2C82.8 84.2 79.9 84.2 78.2 85.7C76.4 87.2 73.7 88.2 73.7 90.2C73.7 92.2 77.9 94.5 78.2 97.7C78.4 101.0 76.6 107.8 75.2 109.8C73.8 111.8 71.4 112.8 69.9 109.8C68.4 106.8 67.5 96.7 66.2 91.7C64.8 86.7 62.2 84.0 61.6 79.7C61.1 75.4 62.4 69.9 63.2 66.2C63.9 62.4 66.0 59.8 66.2 57.1C66.3 54.4 61.1 51.8 63.9 49.9Z" fill="#fff" filter="url(#fRough)" opacity="0.15"/><path d="M27.8 -6.0C23.3 -3.0 30.7 7.3 30.8 12.0C31.0 16.8 29.6 18.8 28.6 22.6C27.6 26.3 25.9 30.8 24.8 34.6C23.7 38.3 21.2 42.2 21.8 45.1C22.4 48.0 27.7 49.4 28.6 51.9C29.4 54.4 26.6 56.8 27.1 60.1C27.6 63.5 30.4 68.2 31.6 72.2C32.7 76.2 34.1 80.2 33.8 84.2C33.6 88.2 31.1 92.0 30.1 96.2C29.1 100.5 20.9 107.5 27.8 109.8C34.7 112.0 65.0 112.8 71.4 109.8C77.8 106.8 67.8 96.7 66.2 91.7C64.5 86.7 62.2 84.0 61.6 79.7C61.1 75.4 62.4 69.9 63.2 66.2C63.9 62.4 65.9 59.9 66.2 57.1C66.5 54.4 64.2 51.6 65.0 49.6C65.7 47.6 70.7 47.9 70.7 45.1C70.6 42.4 66.7 37.3 64.7 33.1C62.7 28.8 59.9 23.8 58.6 19.5C57.4 15.3 57.2 11.8 57.1 7.5C57.1 3.3 63.1 -3.8 58.2 -6.0C53.3 -8.3 32.4 -9.0 27.8 -6.0Z" fill="#8e8e8e" stroke="#8e8e8e" stroke-width="1"/><path d="M27.8 -6.0C23.3 -3.0 30.7 7.3 30.8 12.0C31.0 16.8 29.6 18.8 28.6 22.6C27.6 26.3 25.9 30.8 24.8 34.6C23.7 38.3 21.2 42.2 21.8 45.1C22.4 48.0 27.7 49.4 28.6 51.9C29.4 54.4 26.6 56.8 27.1 60.1C27.6 63.5 30.4 68.2 31.6 72.2C32.7 76.2 34.1 80.2 33.8 84.2C33.6 88.2 31.1 92.0 30.1 96.2C29.1 100.5 20.9 107.5 27.8 109.8C34.7 112.0 65.0 112.8 71.4 109.8C77.8 106.8 67.8 96.7 66.2 91.7C64.5 86.7 62.2 84.0 61.6 79.7C61.1 75.4 62.4 69.9 63.2 66.2C63.9 62.4 65.9 59.9 66.2 57.1C66.5 54.4 64.2 51.6 65.0 49.6C65.7 47.6 70.7 47.9 70.7 45.1C70.6 42.4 66.7 37.3 64.7 33.1C62.7 28.8 59.9 23.8 58.6 19.5C57.4 15.3 57.2 11.8 57.1 7.5C57.1 3.3 63.1 -3.8 58.2 -6.0C53.3 -8.3 32.4 -9.0 27.8 -6.0Z" fill="#fff" filter="url(#fRough)"/><path d="M82.7 45.9C82.9 48.0 83.0 55.0 83.6 58.6C84.3 62.3 86.5 63.9 86.6 67.7C86.7 71.4 84.6 78.9 84.2 81.2" fill="none" stroke="#707070" stroke-width="1.4"/></g><g filter="url(#fB5)" transform="rotate(0 45.1 53.4)" fill="#fff"><ellipse cx="45.1" cy="53.4" rx="6.3" ry="3.0"/><ellipse cx="41.6" cy="53.8" rx="4.3" ry="2.1"/><ellipse cx="49.0" cy="53.7" rx="3.9" ry="1.7"/></g></g><clipPath id="cp7"><rect x="0.00" y="0.10" width="103.90" height="103.40"/></clipPath><g transform="translate(430 118)" clip-path="url(#cp7)"><rect x="0.00" y="0.10" width="103.90" height="103.40" fill="#000"/><g filter="url(#fB3)"><g filter="url(#fEdge)"><path d="M7.6 34.9L19.7 31.1L45.5 28.8L72.9 29.2L95.6 32.6L97.2 44.0L101.0 50.1L101.0 66.8L99.4 72.9L60.7 73.6L18.2 73.6L6.1 72.1L6.1 60.7L7.6 45.5Z" fill="#f6a040"/></g><g filter="url(#fEdge)"><path d="M7.6 34.9L19.7 31.1L45.5 28.8L72.9 29.2L95.6 32.6L97.2 44.0L101.0 50.1L101.0 66.8L99.4 72.9L60.7 73.6L18.2 73.6L6.1 72.1L6.1 60.7L7.6 45.5Z" fill="#fff" filter="url(#fOr)"/></g><g filter="url(#fEdgeB)"><path d="M36.4 42.5C38.2 41.1 42.5 41.5 45.5 41.0C48.6 40.5 51.4 39.5 54.7 39.5C57.9 39.5 64.3 40.0 65.3 41.0C66.3 42.0 62.5 44.0 60.7 45.5C59.0 47.1 56.7 48.6 54.7 50.1C52.6 51.6 50.9 53.9 48.6 54.7C46.3 55.4 42.0 55.4 41.0 54.7C40.0 53.9 43.5 51.0 42.5 50.1C41.5 49.2 35.9 50.6 34.9 49.3C33.9 48.1 34.7 43.9 36.4 42.5Z" fill="url(#gBlob)"/></g><g filter="url(#fEdgeB)"><path d="M60.7 48.6C63.8 47.7 73.9 45.5 75.9 46.3C77.9 47.1 73.6 51.2 72.9 53.1C72.1 55.0 73.4 56.9 71.4 57.7C69.3 58.5 63.0 56.7 60.7 57.7C58.5 58.7 59.5 63.0 57.7 63.8C55.9 64.5 51.4 63.5 50.1 62.2C48.8 61.0 48.8 57.9 50.1 56.2C51.4 54.4 55.9 52.9 57.7 51.6C59.5 50.4 57.7 49.5 60.7 48.6Z" fill="url(#gBlob)"/></g><g filter="url(#fEdgeB)"><path d="M60.7 62.2C62.2 62.2 63.5 66.0 65.3 66.8C67.1 67.6 70.6 66.0 71.4 66.8C72.1 67.6 72.9 70.7 69.8 71.4C66.8 72.0 55.4 71.4 53.1 70.6C50.9 69.8 54.9 68.2 56.2 66.8C57.4 65.4 59.2 62.2 60.7 62.2Z" fill="url(#gBlob)"/></g><g filter="url(#fEdgeB)"><ellipse cx="59.2" cy="47.4" rx="3.0" ry="1.9" fill="#f59a3c"/></g><g filter="url(#fEdgeB)"><ellipse cx="47.1" cy="51.6" rx="3.0" ry="1.5" fill="#f59a3c"/></g><g filter="url(#fEdgeB)"><ellipse cx="68.3" cy="60.7" rx="3.0" ry="1.5" fill="#f59a3c"/></g></g></g><clipPath id="cp8"><rect x="0.10" y="0.10" width="103.20" height="103.40"/></clipPath><g transform="translate(537 118)" clip-path="url(#cp8)"><rect x="0.10" y="0.10" width="103.20" height="103.40" fill="#000"/><g filter="url(#fB3)"><g filter="url(#fEdge)"><path d="M7.6 34.2L18.2 30.4L45.5 28.1L72.9 28.8L93.4 32.6L94.9 42.5L99.4 50.1L99.4 66.8L97.2 73.6L60.7 73.6L18.2 74.1L6.1 72.9L6.1 60.7L7.6 45.5Z" fill="#f6a040"/></g><g filter="url(#fEdge)"><path d="M7.6 34.2L18.2 30.4L45.5 28.1L72.9 28.8L93.4 32.6L94.9 42.5L99.4 50.1L99.4 66.8L97.2 73.6L60.7 73.6L18.2 74.1L6.1 72.9L6.1 60.7L7.6 45.5Z" fill="#fff" filter="url(#fOr2)"/></g><g filter="url(#fEdgeB)"><path d="M47.1 42.5C48.5 41.9 52.9 42.3 53.9 43.3C54.9 44.3 52.5 47.4 53.1 48.6C53.8 49.7 57.2 48.8 57.7 50.1C58.2 51.4 56.9 54.4 56.2 56.2C55.4 57.9 54.4 59.8 53.1 60.7C51.9 61.6 49.8 62.2 48.6 61.5C47.3 60.7 45.5 57.8 45.5 56.2C45.5 54.5 48.6 53.1 48.6 51.6C48.6 50.1 45.8 48.6 45.5 47.1C45.3 45.5 45.7 43.1 47.1 42.5Z" fill="#000"/></g><g filter="url(#fEdgeB)"><ellipse cx="36.8" cy="49.0" rx="2.7" ry="1.1" fill="#000"/></g><g filter="url(#fEdgeB)"><ellipse cx="60.7" cy="66.0" rx="3.0" ry="1.5" fill="#000"/></g><g filter="url(#fEdgeB)"><ellipse cx="44.0" cy="42.0" rx="1.5" ry="1.3" fill="#000"/></g><g filter="url(#fEdgeB)"><ellipse cx="63.0" cy="47.4" rx="2.3" ry="1.1" fill="#000"/></g></g></g><clipPath id="cp9"><rect x="0.40" y="-0.30" width="103.50" height="103.20"/></clipPath><g transform="translate(180 262)" clip-path="url(#cp9)"><rect x="0.40" y="-0.30" width="103.50" height="103.20" fill="#000"/><rect x="-2" y="-2" width="108" height="108" fill="#0b0b0b"/><path d="M14.7 52.5C18.9 50.1 33.4 57.6 39.4 63.9C45.4 70.2 47.2 83.1 50.7 90.5C54.1 97.9 65.8 105.3 60.1 108.3C54.5 111.2 24.2 113.3 16.5 108.3C8.9 103.3 14.6 87.5 14.3 78.2C14.0 68.9 10.6 54.9 14.7 52.5Z" fill="#2c2c2c" filter="url(#fB10)"/><g filter="url(#fB3)"><path d="M14.3 -6.0C10.2 -4.3 17.4 2.0 19.5 4.5C21.7 7.0 24.9 6.8 27.1 9.0C29.2 11.3 31.8 15.3 32.3 18.0C32.8 20.8 30.8 23.7 30.1 25.6C29.3 27.4 27.2 28.2 27.8 29.3C28.4 30.4 32.1 33.5 33.8 32.3C35.6 31.2 37.1 26.4 38.3 22.6C39.6 18.7 40.4 13.8 41.4 9.0C42.3 4.3 48.4 -3.5 43.9 -6.0C39.4 -8.5 18.3 -7.8 14.3 -6.0Z" fill="#1b1b1b"/><path d="M14.3 -6.0C10.2 -4.3 17.4 2.0 19.5 4.5C21.7 7.0 24.9 6.8 27.1 9.0C29.2 11.3 31.8 15.3 32.3 18.0C32.8 20.8 30.8 23.7 30.1 25.6C29.3 27.4 27.2 28.2 27.8 29.3C28.4 30.4 32.1 33.5 33.8 32.3C35.6 31.2 37.1 26.4 38.3 22.6C39.6 18.7 40.4 13.8 41.4 9.0C42.3 4.3 48.4 -3.5 43.9 -6.0C39.4 -8.5 18.3 -7.8 14.3 -6.0Z" fill="#fff" filter="url(#fTrab2)"/><path d="M14.3 -6.0C10.2 -4.3 17.4 2.0 19.5 4.5C21.7 7.0 24.9 6.8 27.1 9.0C29.2 11.3 31.8 15.3 32.3 18.0C32.8 20.8 30.8 23.7 30.1 25.6C29.3 27.4 27.2 28.2 27.8 29.3C28.4 30.4 32.1 33.5 33.8 32.3C35.6 31.2 37.1 26.4 38.3 22.6C39.6 18.7 40.4 13.8 41.4 9.0C42.3 4.3 48.4 -3.5 43.9 -6.0C39.4 -8.5 18.3 -7.8 14.3 -6.0Z" fill="none" stroke="#7e7e7e" stroke-width="1.4" stroke-linejoin="round"/><path d="M45.1 -6.0C41.4 -2.5 45.2 9.0 45.1 15.0C45.0 21.1 45.0 24.9 44.4 30.1C43.7 35.2 38.7 43.1 41.4 45.9C44.0 48.6 53.9 46.6 60.1 46.6C66.4 46.6 75.6 47.4 78.9 45.9C82.2 44.4 80.0 41.5 80.0 37.6C80.0 33.7 79.7 27.6 78.9 22.6C78.1 17.5 77.1 12.3 75.2 7.5C73.3 2.8 72.7 -3.8 67.7 -6.0C62.7 -8.3 48.9 -9.5 45.1 -6.0Z" fill="#1b1b1b"/><path d="M45.1 -6.0C41.4 -2.5 45.2 9.0 45.1 15.0C45.0 21.1 45.0 24.9 44.4 30.1C43.7 35.2 38.7 43.1 41.4 45.9C44.0 48.6 53.9 46.6 60.1 46.6C66.4 46.6 75.6 47.4 78.9 45.9C82.2 44.4 80.0 41.5 80.0 37.6C80.0 33.7 79.7 27.6 78.9 22.6C78.1 17.5 77.1 12.3 75.2 7.5C73.3 2.8 72.7 -3.8 67.7 -6.0C62.7 -8.3 48.9 -9.5 45.1 -6.0Z" fill="#fff" filter="url(#fTrab2)"/><path d="M45.1 -6.0C41.4 -2.5 45.2 9.0 45.1 15.0C45.0 21.1 45.0 24.9 44.4 30.1C43.7 35.2 38.7 43.1 41.4 45.9C44.0 48.6 53.9 46.6 60.1 46.6C66.4 46.6 75.6 47.4 78.9 45.9C82.2 44.4 80.0 41.5 80.0 37.6C80.0 33.7 79.7 27.6 78.9 22.6C78.1 17.5 77.1 12.3 75.2 7.5C73.3 2.8 72.7 -3.8 67.7 -6.0C62.7 -8.3 48.9 -9.5 45.1 -6.0Z" fill="none" stroke="#7e7e7e" stroke-width="1.4" stroke-linejoin="round"/><path d="M12.0 34.6C13.8 32.8 18.0 32.0 21.1 31.6C24.1 31.2 27.3 30.1 30.1 32.3C32.8 34.6 35.7 42.2 37.6 45.1C39.5 48.0 34.3 48.9 41.4 49.6C48.4 50.4 73.3 47.4 79.7 49.6C86.1 51.9 78.9 58.9 79.7 63.2C80.4 67.4 82.5 70.7 84.2 75.2C86.0 79.7 88.6 84.5 90.2 90.2C91.8 96.0 98.5 106.5 94.0 109.8C89.5 113.0 68.8 112.5 63.2 109.8C57.5 107.0 61.1 97.5 60.1 93.2C59.1 89.0 58.4 86.2 57.1 84.2C55.9 82.2 53.9 80.2 52.6 81.2C51.4 82.2 50.9 89.7 49.6 90.2C48.4 90.7 46.1 86.7 45.1 84.2C44.1 81.7 45.4 78.4 43.6 75.2C41.9 71.9 37.6 67.4 34.6 64.7C31.6 61.9 28.6 60.1 25.6 58.6C22.6 57.1 18.5 57.4 16.5 55.6C14.5 53.9 14.6 50.4 13.5 48.1C12.5 45.9 10.5 44.4 10.2 42.1C10.0 39.8 10.2 36.3 12.0 34.6Z" fill="#1b1b1b"/><path d="M12.0 34.6C13.8 32.8 18.0 32.0 21.1 31.6C24.1 31.2 27.3 30.1 30.1 32.3C32.8 34.6 35.7 42.2 37.6 45.1C39.5 48.0 34.3 48.9 41.4 49.6C48.4 50.4 73.3 47.4 79.7 49.6C86.1 51.9 78.9 58.9 79.7 63.2C80.4 67.4 82.5 70.7 84.2 75.2C86.0 79.7 88.6 84.5 90.2 90.2C91.8 96.0 98.5 106.5 94.0 109.8C89.5 113.0 68.8 112.5 63.2 109.8C57.5 107.0 61.1 97.5 60.1 93.2C59.1 89.0 58.4 86.2 57.1 84.2C55.9 82.2 53.9 80.2 52.6 81.2C51.4 82.2 50.9 89.7 49.6 90.2C48.4 90.7 46.1 86.7 45.1 84.2C44.1 81.7 45.4 78.4 43.6 75.2C41.9 71.9 37.6 67.4 34.6 64.7C31.6 61.9 28.6 60.1 25.6 58.6C22.6 57.1 18.5 57.4 16.5 55.6C14.5 53.9 14.6 50.4 13.5 48.1C12.5 45.9 10.5 44.4 10.2 42.1C10.0 39.8 10.2 36.3 12.0 34.6Z" fill="#fff" filter="url(#fTrab2)"/><path d="M12.0 34.6C13.8 32.8 18.0 32.0 21.1 31.6C24.1 31.2 27.3 30.1 30.1 32.3C32.8 34.6 35.7 42.2 37.6 45.1C39.5 48.0 34.3 48.9 41.4 49.6C48.4 50.4 73.3 47.4 79.7 49.6C86.1 51.9 78.9 58.9 79.7 63.2C80.4 67.4 82.5 70.7 84.2 75.2C86.0 79.7 88.6 84.5 90.2 90.2C91.8 96.0 98.5 106.5 94.0 109.8C89.5 113.0 68.8 112.5 63.2 109.8C57.5 107.0 61.1 97.5 60.1 93.2C59.1 89.0 58.4 86.2 57.1 84.2C55.9 82.2 53.9 80.2 52.6 81.2C51.4 82.2 50.9 89.7 49.6 90.2C48.4 90.7 46.1 86.7 45.1 84.2C44.1 81.7 45.4 78.4 43.6 75.2C41.9 71.9 37.6 67.4 34.6 64.7C31.6 61.9 28.6 60.1 25.6 58.6C22.6 57.1 18.5 57.4 16.5 55.6C14.5 53.9 14.6 50.4 13.5 48.1C12.5 45.9 10.5 44.4 10.2 42.1C10.0 39.8 10.2 36.3 12.0 34.6Z" fill="none" stroke="#7e7e7e" stroke-width="1.4" stroke-linejoin="round"/><ellipse cx="16.5" cy="39.8" rx="4.5" ry="4.5" fill="none" stroke="#777" stroke-width="1.6"/><path d="M24.1 99.2C25.8 97.0 29.8 96.6 33.1 96.2C36.3 95.9 41.6 94.7 43.6 97.0C45.6 99.2 48.6 107.6 45.1 109.8C41.6 111.9 26.1 111.5 22.6 109.8C19.0 108.0 22.3 101.5 24.1 99.2Z" fill="#3a3a3a"/><path d="M67.7 60.1C69.2 58.1 76.9 60.6 79.7 63.2C82.5 65.7 84.5 72.2 84.2 75.2C84.0 78.2 80.4 81.2 78.2 81.2C75.9 81.2 72.4 78.7 70.7 75.2C68.9 71.7 66.2 62.2 67.7 60.1Z" fill="#6e6e6e" filter="url(#fB5)"/><path d="M45.1 75.2C46.4 73.7 51.5 73.2 52.6 75.2C53.8 77.2 52.6 84.7 51.9 87.2C51.1 89.7 49.2 90.7 48.1 90.2C47.0 89.7 45.6 86.7 45.1 84.2C44.6 81.7 43.9 76.7 45.1 75.2Z" fill="#6e6e6e" filter="url(#fB5)"/></g><g filter="url(#fB5)" transform="rotate(0 69.2 46.6)" fill="#fff"><ellipse cx="69.2" cy="46.6" rx="6.6" ry="4.1"/><ellipse cx="65.4" cy="47.2" rx="4.5" ry="2.8"/><ellipse cx="73.3" cy="47.0" rx="4.1" ry="2.2"/></g></g><clipPath id="cp11"><rect x="0.10" y="-0.30" width="103.60" height="103.20"/></clipPath><g transform="translate(287 262)" clip-path="url(#cp11)"><rect x="0.10" y="-0.30" width="103.60" height="103.20" fill="#000"/><g filter="url(#fB3)"><path d="M22.6 -6.0C12.9 -4.5 22.8 1.0 24.1 3.0C25.3 5.0 28.7 4.6 30.1 6.0C31.5 7.4 33.6 11.2 32.3 11.3C31.1 11.4 24.8 7.5 22.6 6.8C20.3 6.0 19.7 5.4 18.8 6.8C17.9 8.1 17.9 12.4 17.3 15.0C16.7 17.7 14.7 20.0 15.0 22.6C15.4 25.1 17.5 27.3 19.5 30.1C21.6 32.8 25.3 36.8 27.1 39.1C28.8 41.4 29.9 42.4 30.1 43.6C30.2 44.9 28.1 45.1 27.8 46.6C27.6 48.1 27.8 51.4 28.6 52.6C29.3 53.9 32.0 52.9 32.3 54.1C32.7 55.4 32.2 59.6 30.8 60.1C29.4 60.6 26.4 59.4 24.1 57.1C21.7 54.9 18.7 48.6 16.5 46.6C14.4 44.6 12.5 44.6 11.3 45.1C10.1 45.6 9.1 46.9 9.5 49.6C9.8 52.4 11.9 57.4 13.5 61.6C15.2 65.9 17.5 71.4 19.5 75.2C21.6 78.9 23.6 81.2 25.6 84.2C27.6 87.2 30.4 89.0 31.6 93.2C32.7 97.5 23.9 107.0 32.3 109.8C40.7 112.5 73.4 112.3 81.9 109.8C90.5 107.3 84.4 98.0 83.8 94.7C83.1 91.5 79.9 91.2 78.2 90.2C76.5 89.2 73.7 89.7 73.7 88.7C73.7 87.7 76.4 86.7 78.2 84.2C79.9 81.7 82.8 77.7 84.2 73.7C85.6 69.7 86.2 63.9 86.8 60.1C87.3 56.4 88.1 53.1 87.5 51.1C87.0 49.1 84.4 49.9 83.5 48.1C82.5 46.4 82.8 42.4 81.9 40.6C81.1 38.8 78.6 40.6 78.2 37.6C77.7 34.6 79.3 27.1 79.2 22.6C79.2 18.0 78.7 12.8 77.7 10.5C76.8 8.3 74.1 10.3 73.7 9.0C73.3 7.8 73.8 5.5 75.2 3.0C76.6 0.5 90.7 -4.5 81.9 -6.0C73.2 -7.5 32.2 -7.5 22.6 -6.0Z" fill="#b4b4b4" filter="url(#fLit)"/><path d="M22.6 -6.0C12.9 -4.5 22.8 1.0 24.1 3.0C25.3 5.0 28.7 4.6 30.1 6.0C31.5 7.4 33.6 11.2 32.3 11.3C31.1 11.4 24.8 7.5 22.6 6.8C20.3 6.0 19.7 5.4 18.8 6.8C17.9 8.1 17.9 12.4 17.3 15.0C16.7 17.7 14.7 20.0 15.0 22.6C15.4 25.1 17.5 27.3 19.5 30.1C21.6 32.8 25.3 36.8 27.1 39.1C28.8 41.4 29.9 42.4 30.1 43.6C30.2 44.9 28.1 45.1 27.8 46.6C27.6 48.1 27.8 51.4 28.6 52.6C29.3 53.9 32.0 52.9 32.3 54.1C32.7 55.4 32.2 59.6 30.8 60.1C29.4 60.6 26.4 59.4 24.1 57.1C21.7 54.9 18.7 48.6 16.5 46.6C14.4 44.6 12.5 44.6 11.3 45.1C10.1 45.6 9.1 46.9 9.5 49.6C9.8 52.4 11.9 57.4 13.5 61.6C15.2 65.9 17.5 71.4 19.5 75.2C21.6 78.9 23.6 81.2 25.6 84.2C27.6 87.2 30.4 89.0 31.6 93.2C32.7 97.5 23.9 107.0 32.3 109.8C40.7 112.5 73.4 112.3 81.9 109.8C90.5 107.3 84.4 98.0 83.8 94.7C83.1 91.5 79.9 91.2 78.2 90.2C76.5 89.2 73.7 89.7 73.7 88.7C73.7 87.7 76.4 86.7 78.2 84.2C79.9 81.7 82.8 77.7 84.2 73.7C85.6 69.7 86.2 63.9 86.8 60.1C87.3 56.4 88.1 53.1 87.5 51.1C87.0 49.1 84.4 49.9 83.5 48.1C82.5 46.4 82.8 42.4 81.9 40.6C81.1 38.8 78.6 40.6 78.2 37.6C77.7 34.6 79.3 27.1 79.2 22.6C79.2 18.0 78.7 12.8 77.7 10.5C76.8 8.3 74.1 10.3 73.7 9.0C73.3 7.8 73.8 5.5 75.2 3.0C76.6 0.5 90.7 -4.5 81.9 -6.0C73.2 -7.5 32.2 -7.5 22.6 -6.0Z" fill="#fff" filter="url(#fRough)" opacity="0.15"/><clipPath id="cs10"><path d="M22.6 -6.0C12.9 -4.5 22.8 1.0 24.1 3.0C25.3 5.0 28.7 4.6 30.1 6.0C31.5 7.4 33.6 11.2 32.3 11.3C31.1 11.4 24.8 7.5 22.6 6.8C20.3 6.0 19.7 5.4 18.8 6.8C17.9 8.1 17.9 12.4 17.3 15.0C16.7 17.7 14.7 20.0 15.0 22.6C15.4 25.1 17.5 27.3 19.5 30.1C21.6 32.8 25.3 36.8 27.1 39.1C28.8 41.4 29.9 42.4 30.1 43.6C30.2 44.9 28.1 45.1 27.8 46.6C27.6 48.1 27.8 51.4 28.6 52.6C29.3 53.9 32.0 52.9 32.3 54.1C32.7 55.4 32.2 59.6 30.8 60.1C29.4 60.6 26.4 59.4 24.1 57.1C21.7 54.9 18.7 48.6 16.5 46.6C14.4 44.6 12.5 44.6 11.3 45.1C10.1 45.6 9.1 46.9 9.5 49.6C9.8 52.4 11.9 57.4 13.5 61.6C15.2 65.9 17.5 71.4 19.5 75.2C21.6 78.9 23.6 81.2 25.6 84.2C27.6 87.2 30.4 89.0 31.6 93.2C32.7 97.5 23.9 107.0 32.3 109.8C40.7 112.5 73.4 112.3 81.9 109.8C90.5 107.3 84.4 98.0 83.8 94.7C83.1 91.5 79.9 91.2 78.2 90.2C76.5 89.2 73.7 89.7 73.7 88.7C73.7 87.7 76.4 86.7 78.2 84.2C79.9 81.7 82.8 77.7 84.2 73.7C85.6 69.7 86.2 63.9 86.8 60.1C87.3 56.4 88.1 53.1 87.5 51.1C87.0 49.1 84.4 49.9 83.5 48.1C82.5 46.4 82.8 42.4 81.9 40.6C81.1 38.8 78.6 40.6 78.2 37.6C77.7 34.6 79.3 27.1 79.2 22.6C79.2 18.0 78.7 12.8 77.7 10.5C76.8 8.3 74.1 10.3 73.7 9.0C73.3 7.8 73.8 5.5 75.2 3.0C76.6 0.5 90.7 -4.5 81.9 -6.0C73.2 -7.5 32.2 -7.5 22.6 -6.0Z"/></clipPath><g clip-path="url(#cs10)"><path d="M18.8 9.0C20.8 7.8 27.3 13.0 30.1 16.5C32.8 20.0 35.6 26.6 35.3 30.1C35.1 33.6 31.5 38.6 28.6 37.6C25.7 36.6 19.7 28.8 18.0 24.1C16.4 19.3 16.8 10.3 18.8 9.0Z" fill="#e6e6e6" filter="url(#fB10)"/><path d="M12.0 46.6C13.0 45.4 18.8 53.1 22.6 57.1C26.3 61.1 32.1 65.2 34.6 70.7C37.1 76.2 38.8 88.5 37.6 90.2C36.3 92.0 30.6 85.5 27.1 81.2C23.6 76.9 19.0 70.4 16.5 64.7C14.0 58.9 11.0 47.9 12.0 46.6Z" fill="#dcdcdc" filter="url(#fB10)"/><path d="M66.2 3.0C67.9 1.8 73.9 3.5 75.2 4.5C76.4 5.5 75.4 7.8 73.7 9.0C71.9 10.3 65.9 13.0 64.7 12.0C63.4 11.0 64.4 4.3 66.2 3.0Z" fill="#d4d4d4" filter="url(#fB10)"/><path d="M75.2 40.6C76.1 39.3 80.1 40.1 81.9 42.1C83.8 44.1 86.6 49.9 86.5 52.6C86.3 55.4 82.8 59.1 81.2 58.6C79.6 58.1 77.7 52.6 76.7 49.6C75.7 46.6 74.3 41.9 75.2 40.6Z" fill="#d0d0d0" filter="url(#fB10)"/></g><path d="M36.1 9.0C36.6 7.0 35.6 6.5 39.1 6.0C42.6 5.5 53.1 4.5 57.1 6.0C61.1 7.5 60.6 14.3 63.2 15.0C65.7 15.8 69.8 11.3 72.2 10.5C74.6 9.8 76.3 8.5 77.4 10.5C78.6 12.5 78.8 18.0 78.9 22.6C79.1 27.1 79.1 34.3 78.2 37.6C77.3 40.8 73.4 39.8 73.7 42.1C73.9 44.4 77.6 48.1 79.7 51.1C81.8 54.1 85.7 56.4 86.5 60.1C87.2 63.9 85.6 69.7 84.2 73.7C82.8 77.7 79.9 81.7 78.2 84.2C76.4 86.7 74.7 84.5 73.7 88.7C72.7 93.0 77.9 106.3 72.2 109.8C66.4 113.3 44.4 113.0 39.1 109.8C33.8 106.5 40.3 96.0 40.6 90.2C40.8 84.5 41.4 79.2 40.6 75.2C39.8 71.2 37.7 68.7 36.1 66.2C34.5 63.7 31.5 62.7 30.8 60.1C30.2 57.6 31.3 53.9 32.3 51.1C33.3 48.4 36.0 47.1 36.8 43.6C37.7 40.1 37.7 34.3 37.6 30.1C37.5 25.8 36.3 21.6 36.1 18.0C35.8 14.5 35.6 11.0 36.1 9.0Z" fill="#8e8e8e" stroke="#8e8e8e" stroke-width="1"/><path d="M36.1 9.0C36.6 7.0 35.6 6.5 39.1 6.0C42.6 5.5 53.1 4.5 57.1 6.0C61.1 7.5 60.6 14.3 63.2 15.0C65.7 15.8 69.8 11.3 72.2 10.5C74.6 9.8 76.3 8.5 77.4 10.5C78.6 12.5 78.8 18.0 78.9 22.6C79.1 27.1 79.1 34.3 78.2 37.6C77.3 40.8 73.4 39.8 73.7 42.1C73.9 44.4 77.6 48.1 79.7 51.1C81.8 54.1 85.7 56.4 86.5 60.1C87.2 63.9 85.6 69.7 84.2 73.7C82.8 77.7 79.9 81.7 78.2 84.2C76.4 86.7 74.7 84.5 73.7 88.7C72.7 93.0 77.9 106.3 72.2 109.8C66.4 113.3 44.4 113.0 39.1 109.8C33.8 106.5 40.3 96.0 40.6 90.2C40.8 84.5 41.4 79.2 40.6 75.2C39.8 71.2 37.7 68.7 36.1 66.2C34.5 63.7 31.5 62.7 30.8 60.1C30.2 57.6 31.3 53.9 32.3 51.1C33.3 48.4 36.0 47.1 36.8 43.6C37.7 40.1 37.7 34.3 37.6 30.1C37.5 25.8 36.3 21.6 36.1 18.0C35.8 14.5 35.6 11.0 36.1 9.0Z" fill="#fff" filter="url(#fRough)"/></g><g filter="url(#fB5)" transform="rotate(0 53.4 56.4)" fill="#fff"><ellipse cx="53.4" cy="56.4" rx="5.5" ry="3.5"/><ellipse cx="50.3" cy="56.9" rx="3.8" ry="2.4"/><ellipse cx="56.8" cy="56.7" rx="3.5" ry="1.9"/></g></g><clipPath id="cp12"><rect x="1.20" y="-0.30" width="103.40" height="103.20"/></clipPath><g transform="translate(430 262)" clip-path="url(#cp12)"><rect x="1.20" y="-0.30" width="103.40" height="103.20" fill="#000"/><g filter="url(#fB3)"><g filter="url(#fEdge)"><path d="M6.8 41.8L13.7 40.2L38.0 38.7L72.9 36.7L94.1 37.2L100.2 41.0L101.0 60.7L100.2 75.9L91.1 79.7L60.7 79.7L33.4 78.9L9.1 77.4L6.8 71.4L6.8 53.1Z" fill="#f6a040"/></g><g filter="url(#fEdge)"><path d="M6.8 41.8L13.7 40.2L38.0 38.7L72.9 36.7L94.1 37.2L100.2 41.0L101.0 60.7L100.2 75.9L91.1 79.7L60.7 79.7L33.4 78.9L9.1 77.4L6.8 71.4L6.8 53.1Z" fill="#fff" filter="url(#fOr)"/></g><g filter="url(#fEdgeB)"><ellipse cx="24.3" cy="55.0" rx="4.6" ry="3.4" fill="#a9a9b0"/></g><g filter="url(#fEdgeB)"><ellipse cx="31.5" cy="64.9" rx="2.7" ry="3.4" fill="#a9a9b0"/></g><g filter="url(#fEdgeB)"><ellipse cx="45.9" cy="64.1" rx="2.7" ry="1.9" fill="#a9a9b0"/></g><g filter="url(#fEdgeB)"><ellipse cx="72.1" cy="51.6" rx="3.8" ry="3.8" fill="#a9a9b0"/></g><g filter="url(#fEdgeB)"><ellipse cx="86.5" cy="66.4" rx="1.5" ry="1.1" fill="#a9a9b0"/></g></g><rect x="7.9" y="63.0" width="4.9" height="2.4" fill="#000"/><rect x="14.6" y="55.6" width="3.3" height="2.7" fill="#000"/></g><clipPath id="cp13"><rect x="0.70" y="-0.30" width="103.50" height="103.20"/></clipPath><g transform="translate(537 262)" clip-path="url(#cp13)"><rect x="0.70" y="-0.30" width="103.50" height="103.20" fill="#000"/><g filter="url(#fB3)"><g filter="url(#fEdge)"><path d="M6.1 41.0L12.1 39.8L38.0 38.0L71.4 36.1L91.1 37.2L96.4 41.8L96.4 60.7L96.4 75.9L89.6 79.7L60.7 79.7L31.9 78.9L7.6 77.4L6.1 71.4L6.1 53.1Z" fill="#f6a040"/></g><g filter="url(#fEdge)"><path d="M6.1 41.0L12.1 39.8L38.0 38.0L71.4 36.1L91.1 37.2L96.4 41.8L96.4 60.7L96.4 75.9L89.6 79.7L60.7 79.7L31.9 78.9L7.6 77.4L6.1 71.4L6.1 53.1Z" fill="#fff" filter="url(#fOr2)"/></g><g filter="url(#fEdgeB)"><ellipse cx="18.2" cy="55.4" rx="3.0" ry="2.3" fill="#000"/></g><g filter="url(#fEdgeB)"><ellipse cx="9.5" cy="63.8" rx="2.7" ry="1.5" fill="#000"/></g><g filter="url(#fEdgeB)"><ellipse cx="29.6" cy="64.9" rx="3.0" ry="3.4" fill="#000"/></g><g filter="url(#fEdgeB)"><ellipse cx="23.9" cy="52.8" rx="1.1" ry="1.1" fill="#000"/></g><g filter="url(#fEdgeB)"><ellipse cx="41.8" cy="62.6" rx="1.5" ry="1.1" fill="#000"/></g></g></g><clipPath id="cp14"><rect x="0.40" y="-0.10" width="103.50" height="103.10"/></clipPath><g transform="translate(180 369)" clip-path="url(#cp14)"><rect x="0.40" y="-0.10" width="103.50" height="103.10" fill="#000"/><rect x="-2" y="-2" width="108" height="108" fill="#060606"/><rect x="2.1" y="0" width="81.2" height="103" fill="#2a2a2a" filter="url(#fB10)"/><g filter="url(#fB3)"><path d="M0.8 6.0C2.1 8.3 6.9 6.0 9.0 7.5C11.2 9.0 13.2 11.3 13.5 15.0C13.9 18.8 11.3 25.6 11.3 30.1C11.3 34.6 12.4 38.1 13.5 42.1C14.7 46.1 15.9 52.6 18.0 54.1C20.2 55.6 25.2 52.9 26.3 51.1C27.4 49.4 24.3 47.1 24.8 43.6C25.3 40.1 28.1 35.3 29.3 30.1C30.6 24.8 31.5 18.0 32.3 12.0C33.2 6.0 39.5 -3.0 34.3 -6.0C29.0 -9.0 6.3 -8.0 0.8 -6.0C-4.8 -4.0 -0.6 3.8 0.8 6.0Z" fill="#1b1b1b"/><path d="M0.8 6.0C2.1 8.3 6.9 6.0 9.0 7.5C11.2 9.0 13.2 11.3 13.5 15.0C13.9 18.8 11.3 25.6 11.3 30.1C11.3 34.6 12.4 38.1 13.5 42.1C14.7 46.1 15.9 52.6 18.0 54.1C20.2 55.6 25.2 52.9 26.3 51.1C27.4 49.4 24.3 47.1 24.8 43.6C25.3 40.1 28.1 35.3 29.3 30.1C30.6 24.8 31.5 18.0 32.3 12.0C33.2 6.0 39.5 -3.0 34.3 -6.0C29.0 -9.0 6.3 -8.0 0.8 -6.0C-4.8 -4.0 -0.6 3.8 0.8 6.0Z" fill="#fff" filter="url(#fTrab2)"/><path d="M0.8 6.0C2.1 8.3 6.9 6.0 9.0 7.5C11.2 9.0 13.2 11.3 13.5 15.0C13.9 18.8 11.3 25.6 11.3 30.1C11.3 34.6 12.4 38.1 13.5 42.1C14.7 46.1 15.9 52.6 18.0 54.1C20.2 55.6 25.2 52.9 26.3 51.1C27.4 49.4 24.3 47.1 24.8 43.6C25.3 40.1 28.1 35.3 29.3 30.1C30.6 24.8 31.5 18.0 32.3 12.0C33.2 6.0 39.5 -3.0 34.3 -6.0C29.0 -9.0 6.3 -8.0 0.8 -6.0C-4.8 -4.0 -0.6 3.8 0.8 6.0Z" fill="none" stroke="#7e7e7e" stroke-width="2.4" stroke-linejoin="round"/><path d="M55.2 -6.0C49.6 -2.5 52.8 9.5 51.9 15.0C50.9 20.5 50.4 22.4 49.6 27.1C48.8 31.7 45.3 39.8 47.1 42.9C48.8 45.9 55.0 44.9 60.1 45.1C65.3 45.3 75.4 45.4 78.2 43.9C80.9 42.4 77.7 38.4 76.7 36.1C75.7 33.8 71.9 32.8 72.2 30.1C72.4 27.3 76.3 23.1 78.2 19.5C80.1 16.0 82.2 13.3 83.5 9.0C84.7 4.8 90.1 -3.5 85.4 -6.0C80.7 -8.5 60.8 -9.5 55.2 -6.0Z" fill="#1b1b1b"/><path d="M55.2 -6.0C49.6 -2.5 52.8 9.5 51.9 15.0C50.9 20.5 50.4 22.4 49.6 27.1C48.8 31.7 45.3 39.8 47.1 42.9C48.8 45.9 55.0 44.9 60.1 45.1C65.3 45.3 75.4 45.4 78.2 43.9C80.9 42.4 77.7 38.4 76.7 36.1C75.7 33.8 71.9 32.8 72.2 30.1C72.4 27.3 76.3 23.1 78.2 19.5C80.1 16.0 82.2 13.3 83.5 9.0C84.7 4.8 90.1 -3.5 85.4 -6.0C80.7 -8.5 60.8 -9.5 55.2 -6.0Z" fill="#fff" filter="url(#fTrab2)"/><path d="M55.2 -6.0C49.6 -2.5 52.8 9.5 51.9 15.0C50.9 20.5 50.4 22.4 49.6 27.1C48.8 31.7 45.3 39.8 47.1 42.9C48.8 45.9 55.0 44.9 60.1 45.1C65.3 45.3 75.4 45.4 78.2 43.9C80.9 42.4 77.7 38.4 76.7 36.1C75.7 33.8 71.9 32.8 72.2 30.1C72.4 27.3 76.3 23.1 78.2 19.5C80.1 16.0 82.2 13.3 83.5 9.0C84.7 4.8 90.1 -3.5 85.4 -6.0C80.7 -8.5 60.8 -9.5 55.2 -6.0Z" fill="none" stroke="#7e7e7e" stroke-width="1.4" stroke-linejoin="round"/><path d="M27.8 57.1C28.9 57.1 30.8 62.7 32.3 63.2C33.8 63.7 35.7 59.1 36.8 60.1C38.0 61.1 37.7 66.2 39.1 69.2C40.5 72.2 44.1 74.2 45.1 78.2C46.1 82.2 46.9 90.2 45.1 93.2C43.4 96.2 37.8 95.2 34.6 96.2C31.3 97.2 28.1 97.0 25.6 99.2C23.1 101.5 21.4 108.0 19.5 109.8C17.7 111.5 13.4 113.0 14.3 109.8C15.2 106.5 23.2 96.5 24.8 90.2C26.4 84.0 23.9 76.7 24.1 72.2C24.2 67.7 24.9 65.7 25.6 63.2C26.2 60.6 26.7 57.1 27.8 57.1Z" fill="#1b1b1b"/><path d="M27.8 57.1C28.9 57.1 30.8 62.7 32.3 63.2C33.8 63.7 35.7 59.1 36.8 60.1C38.0 61.1 37.7 66.2 39.1 69.2C40.5 72.2 44.1 74.2 45.1 78.2C46.1 82.2 46.9 90.2 45.1 93.2C43.4 96.2 37.8 95.2 34.6 96.2C31.3 97.2 28.1 97.0 25.6 99.2C23.1 101.5 21.4 108.0 19.5 109.8C17.7 111.5 13.4 113.0 14.3 109.8C15.2 106.5 23.2 96.5 24.8 90.2C26.4 84.0 23.9 76.7 24.1 72.2C24.2 67.7 24.9 65.7 25.6 63.2C26.2 60.6 26.7 57.1 27.8 57.1Z" fill="#fff" filter="url(#fTrab2)"/><path d="M27.8 57.1C28.9 57.1 30.8 62.7 32.3 63.2C33.8 63.7 35.7 59.1 36.8 60.1C38.0 61.1 37.7 66.2 39.1 69.2C40.5 72.2 44.1 74.2 45.1 78.2C46.1 82.2 46.9 90.2 45.1 93.2C43.4 96.2 37.8 95.2 34.6 96.2C31.3 97.2 28.1 97.0 25.6 99.2C23.1 101.5 21.4 108.0 19.5 109.8C17.7 111.5 13.4 113.0 14.3 109.8C15.2 106.5 23.2 96.5 24.8 90.2C26.4 84.0 23.9 76.7 24.1 72.2C24.2 67.7 24.9 65.7 25.6 63.2C26.2 60.6 26.7 57.1 27.8 57.1Z" fill="none" stroke="#7e7e7e" stroke-width="2.6" stroke-linejoin="round"/><path d="M46.6 51.1C43.5 53.9 45.4 62.2 45.9 67.7C46.4 73.2 47.6 77.2 49.6 84.2C51.6 91.2 52.3 105.5 57.9 109.8C63.5 114.0 79.1 114.0 83.5 109.8C87.8 105.5 83.8 91.2 84.2 84.2C84.6 77.2 86.0 73.0 86.0 67.7C86.1 62.4 88.1 55.1 84.5 52.3C80.9 49.5 71.0 51.0 64.7 50.8C58.3 50.6 49.7 48.3 46.6 51.1Z" fill="#1b1b1b"/><path d="M46.6 51.1C43.5 53.9 45.4 62.2 45.9 67.7C46.4 73.2 47.6 77.2 49.6 84.2C51.6 91.2 52.3 105.5 57.9 109.8C63.5 114.0 79.1 114.0 83.5 109.8C87.8 105.5 83.8 91.2 84.2 84.2C84.6 77.2 86.0 73.0 86.0 67.7C86.1 62.4 88.1 55.1 84.5 52.3C80.9 49.5 71.0 51.0 64.7 50.8C58.3 50.6 49.7 48.3 46.6 51.1Z" fill="#fff" filter="url(#fTrab2)"/><path d="M46.6 51.1C43.5 53.9 45.4 62.2 45.9 67.7C46.4 73.2 47.6 77.2 49.6 84.2C51.6 91.2 52.3 105.5 57.9 109.8C63.5 114.0 79.1 114.0 83.5 109.8C87.8 105.5 83.8 91.2 84.2 84.2C84.6 77.2 86.0 73.0 86.0 67.7C86.1 62.4 88.1 55.1 84.5 52.3C80.9 49.5 71.0 51.0 64.7 50.8C58.3 50.6 49.7 48.3 46.6 51.1Z" fill="none" stroke="#7e7e7e" stroke-width="2.2" stroke-linejoin="round"/><path d="M0.8 6.0C2.1 5.5 6.9 6.0 9.0 7.5C11.2 9.0 13.0 12.3 13.5 15.0C14.0 17.8 12.9 24.3 12.0 24.1C11.2 23.8 10.1 15.8 8.3 13.5C6.4 11.3 2.0 11.8 0.8 10.5C-0.5 9.3 -0.6 6.5 0.8 6.0Z" fill="#858585"/><path d="M9.3 9.3C10.1 10.5 13.3 13.1 13.8 16.5C14.4 20.0 12.3 25.8 12.5 30.1C12.6 34.3 13.6 38.3 14.7 42.1C15.9 45.9 18.5 50.9 19.2 52.6" fill="none" stroke="#808080" stroke-width="3.4" stroke-linecap="round"/><path d="M83.0 53.4C83.2 55.8 84.3 62.5 84.2 67.7C84.2 72.8 83.1 77.9 82.7 84.2C82.3 90.5 82.2 101.7 82.1 105.3" fill="none" stroke="#808080" stroke-width="3.4" stroke-linecap="round"/><path d="M25.6 64.7C25.5 65.9 25.1 67.9 25.3 72.2C25.4 76.4 27.5 85.0 26.3 90.2C25.1 95.5 19.4 101.5 18.0 103.8" fill="none" stroke="#808080" stroke-width="3" stroke-linecap="round"/></g><rect x="72.2" y="44.8" width="21.1" height="5.1" fill="#777" filter="url(#fB10)"/><ellipse cx="64.7" cy="46.6" rx="18.0" ry="3.6" fill="#aaa" opacity="0.5" filter="url(#fB25)"/><ellipse cx="63.2" cy="46.6" rx="9.8" ry="3.6" fill="#ddd" opacity="0.8" filter="url(#fB10)"/><g filter="url(#fB5)" transform="rotate(0 66.9 46.6)" fill="#fff"><ellipse cx="66.9" cy="46.6" rx="6.0" ry="4.5"/><ellipse cx="63.5" cy="47.3" rx="4.1" ry="3.2"/><ellipse cx="70.7" cy="47.1" rx="3.8" ry="2.5"/></g></g><clipPath id="cp16"><rect x="0.10" y="-0.10" width="103.60" height="103.10"/></clipPath><g transform="translate(287 369)" clip-path="url(#cp16)"><rect x="0.10" y="-0.10" width="103.60" height="103.10" fill="#000"/><g filter="url(#fB3)"><path d="M24.8 -6.0C14.6 -4.4 25.2 1.9 26.3 3.8C27.4 5.6 30.1 4.3 31.6 5.3C33.1 6.3 35.3 8.3 35.3 9.8C35.3 11.3 33.1 13.8 31.6 14.3C30.1 14.8 27.6 12.4 26.3 12.8C25.1 13.2 24.2 14.9 24.1 16.5C23.9 18.2 26.6 20.3 25.6 22.6C24.6 24.8 19.2 28.1 18.0 30.1C16.9 32.1 17.7 32.3 18.8 34.6C19.9 36.8 23.9 40.6 24.8 43.6C25.7 46.6 23.7 50.4 24.1 52.6C24.4 54.9 26.2 55.9 27.1 57.1C27.9 58.4 29.3 59.1 29.3 60.1C29.3 61.1 29.2 65.2 27.1 63.2C24.9 61.1 19.2 51.1 16.5 48.1C13.9 45.1 13.0 44.9 11.3 45.1C9.6 45.4 7.3 47.1 6.5 49.6C5.7 52.1 5.7 55.9 6.5 60.1C7.3 64.4 9.3 70.7 11.3 75.2C13.2 79.7 15.7 83.7 18.0 87.2C20.4 90.7 24.1 92.5 25.6 96.2C27.1 100.0 17.3 107.5 27.1 109.8C36.8 112.0 74.4 112.0 84.2 109.8C94.0 107.5 86.4 99.0 86.0 96.2C85.6 93.5 82.2 95.0 81.9 93.2C81.6 91.5 83.1 88.7 84.2 85.7C85.3 82.7 87.1 79.4 88.7 75.2C90.3 70.9 92.7 64.2 94.0 60.1C95.3 56.1 96.8 53.1 96.5 51.1C96.3 49.1 93.8 47.9 92.5 48.1C91.2 48.4 90.2 50.6 88.7 52.6C87.2 54.6 84.3 60.6 83.5 60.1C82.6 59.6 84.1 52.6 83.5 49.6C82.8 46.6 79.1 44.1 79.7 42.1C80.3 40.1 85.2 39.1 87.2 37.6C89.3 36.1 91.9 35.6 92.0 33.1C92.1 30.6 88.9 25.7 88.0 22.6C87.0 19.4 87.5 15.8 86.5 14.3C85.5 12.8 83.3 13.4 81.9 13.5C80.6 13.7 79.1 15.8 78.2 15.0C77.3 14.3 76.2 10.8 76.7 9.0C77.2 7.3 79.6 5.0 81.2 4.5C82.8 4.0 85.4 7.8 86.5 6.0C87.5 4.3 97.8 -4.0 87.5 -6.0C77.2 -8.0 35.0 -7.6 24.8 -6.0Z" fill="#b2b2b2" filter="url(#fLit)"/><path d="M24.8 -6.0C14.6 -4.4 25.2 1.9 26.3 3.8C27.4 5.6 30.1 4.3 31.6 5.3C33.1 6.3 35.3 8.3 35.3 9.8C35.3 11.3 33.1 13.8 31.6 14.3C30.1 14.8 27.6 12.4 26.3 12.8C25.1 13.2 24.2 14.9 24.1 16.5C23.9 18.2 26.6 20.3 25.6 22.6C24.6 24.8 19.2 28.1 18.0 30.1C16.9 32.1 17.7 32.3 18.8 34.6C19.9 36.8 23.9 40.6 24.8 43.6C25.7 46.6 23.7 50.4 24.1 52.6C24.4 54.9 26.2 55.9 27.1 57.1C27.9 58.4 29.3 59.1 29.3 60.1C29.3 61.1 29.2 65.2 27.1 63.2C24.9 61.1 19.2 51.1 16.5 48.1C13.9 45.1 13.0 44.9 11.3 45.1C9.6 45.4 7.3 47.1 6.5 49.6C5.7 52.1 5.7 55.9 6.5 60.1C7.3 64.4 9.3 70.7 11.3 75.2C13.2 79.7 15.7 83.7 18.0 87.2C20.4 90.7 24.1 92.5 25.6 96.2C27.1 100.0 17.3 107.5 27.1 109.8C36.8 112.0 74.4 112.0 84.2 109.8C94.0 107.5 86.4 99.0 86.0 96.2C85.6 93.5 82.2 95.0 81.9 93.2C81.6 91.5 83.1 88.7 84.2 85.7C85.3 82.7 87.1 79.4 88.7 75.2C90.3 70.9 92.7 64.2 94.0 60.1C95.3 56.1 96.8 53.1 96.5 51.1C96.3 49.1 93.8 47.9 92.5 48.1C91.2 48.4 90.2 50.6 88.7 52.6C87.2 54.6 84.3 60.6 83.5 60.1C82.6 59.6 84.1 52.6 83.5 49.6C82.8 46.6 79.1 44.1 79.7 42.1C80.3 40.1 85.2 39.1 87.2 37.6C89.3 36.1 91.9 35.6 92.0 33.1C92.1 30.6 88.9 25.7 88.0 22.6C87.0 19.4 87.5 15.8 86.5 14.3C85.5 12.8 83.3 13.4 81.9 13.5C80.6 13.7 79.1 15.8 78.2 15.0C77.3 14.3 76.2 10.8 76.7 9.0C77.2 7.3 79.6 5.0 81.2 4.5C82.8 4.0 85.4 7.8 86.5 6.0C87.5 4.3 97.8 -4.0 87.5 -6.0C77.2 -8.0 35.0 -7.6 24.8 -6.0Z" fill="#fff" filter="url(#fRough)" opacity="0.15"/><clipPath id="cs15"><path d="M24.8 -6.0C14.6 -4.4 25.2 1.9 26.3 3.8C27.4 5.6 30.1 4.3 31.6 5.3C33.1 6.3 35.3 8.3 35.3 9.8C35.3 11.3 33.1 13.8 31.6 14.3C30.1 14.8 27.6 12.4 26.3 12.8C25.1 13.2 24.2 14.9 24.1 16.5C23.9 18.2 26.6 20.3 25.6 22.6C24.6 24.8 19.2 28.1 18.0 30.1C16.9 32.1 17.7 32.3 18.8 34.6C19.9 36.8 23.9 40.6 24.8 43.6C25.7 46.6 23.7 50.4 24.1 52.6C24.4 54.9 26.2 55.9 27.1 57.1C27.9 58.4 29.3 59.1 29.3 60.1C29.3 61.1 29.2 65.2 27.1 63.2C24.9 61.1 19.2 51.1 16.5 48.1C13.9 45.1 13.0 44.9 11.3 45.1C9.6 45.4 7.3 47.1 6.5 49.6C5.7 52.1 5.7 55.9 6.5 60.1C7.3 64.4 9.3 70.7 11.3 75.2C13.2 79.7 15.7 83.7 18.0 87.2C20.4 90.7 24.1 92.5 25.6 96.2C27.1 100.0 17.3 107.5 27.1 109.8C36.8 112.0 74.4 112.0 84.2 109.8C94.0 107.5 86.4 99.0 86.0 96.2C85.6 93.5 82.2 95.0 81.9 93.2C81.6 91.5 83.1 88.7 84.2 85.7C85.3 82.7 87.1 79.4 88.7 75.2C90.3 70.9 92.7 64.2 94.0 60.1C95.3 56.1 96.8 53.1 96.5 51.1C96.3 49.1 93.8 47.9 92.5 48.1C91.2 48.4 90.2 50.6 88.7 52.6C87.2 54.6 84.3 60.6 83.5 60.1C82.6 59.6 84.1 52.6 83.5 49.6C82.8 46.6 79.1 44.1 79.7 42.1C80.3 40.1 85.2 39.1 87.2 37.6C89.3 36.1 91.9 35.6 92.0 33.1C92.1 30.6 88.9 25.7 88.0 22.6C87.0 19.4 87.5 15.8 86.5 14.3C85.5 12.8 83.3 13.4 81.9 13.5C80.6 13.7 79.1 15.8 78.2 15.0C77.3 14.3 76.2 10.8 76.7 9.0C77.2 7.3 79.6 5.0 81.2 4.5C82.8 4.0 85.4 7.8 86.5 6.0C87.5 4.3 97.8 -4.0 87.5 -6.0C77.2 -8.0 35.0 -7.6 24.8 -6.0Z"/></clipPath><g clip-path="url(#cs15)"><path d="M26.3 15.0C29.4 12.5 36.7 12.8 39.1 16.5C41.5 20.3 42.4 33.1 40.6 37.6C38.8 42.1 32.0 44.6 28.6 43.6C25.2 42.6 20.7 36.3 20.3 31.6C19.9 26.8 23.2 17.5 26.3 15.0Z" fill="#e4e4e4" filter="url(#fB10)"/><path d="M9.0 48.1C10.3 45.4 16.0 50.4 19.5 54.1C23.1 57.9 27.3 64.7 30.1 70.7C32.8 76.7 37.3 87.5 36.1 90.2C34.8 93.0 26.6 90.5 22.6 87.2C18.5 84.0 14.3 77.2 12.0 70.7C9.8 64.2 7.8 50.9 9.0 48.1Z" fill="#dadada" filter="url(#fB10)"/><path d="M72.2 15.8C74.1 13.5 82.0 13.7 85.0 16.5C87.9 19.4 90.8 29.2 89.9 33.1C89.0 37.0 82.4 40.3 79.7 39.8C77.0 39.3 74.9 34.1 73.7 30.1C72.4 26.1 70.3 18.0 72.2 15.8Z" fill="#d6d6d6" filter="url(#fB10)"/><path d="M88.7 53.4C90.9 50.2 94.8 49.0 95.0 51.9C95.3 54.8 92.0 65.4 90.2 70.7C88.5 75.9 85.9 83.5 84.5 83.5C83.1 83.5 81.2 75.7 81.9 70.7C82.7 65.7 86.5 56.5 88.7 53.4Z" fill="#d2d2d2" filter="url(#fB10)"/><path d="M37.6 0.0C43.1 -1.1 66.7 -1.1 72.2 0.0C77.7 1.1 76.2 5.6 70.7 6.8C65.2 7.9 44.6 7.9 39.1 6.8C33.6 5.6 32.1 1.1 37.6 0.0Z" fill="#c8c8c8" filter="url(#fB10)"/></g><path d="M43.6 11.3C44.2 9.8 43.1 9.4 46.6 9.0C50.1 8.6 60.9 8.3 64.7 9.0C68.4 9.8 68.2 10.8 69.2 13.5C70.2 16.3 69.7 21.8 70.7 25.6C71.7 29.3 73.7 32.8 75.2 36.1C76.7 39.3 78.3 41.1 79.7 45.1C81.1 49.1 84.0 55.9 83.5 60.1C83.0 64.4 76.6 66.4 76.7 70.7C76.8 74.9 83.3 81.9 84.2 85.7C85.1 89.5 84.0 89.2 81.9 93.2C79.9 97.2 79.6 107.0 72.2 109.8C64.8 112.5 43.2 114.0 37.6 109.8C32.0 105.5 39.2 90.5 38.3 84.2C37.5 77.9 33.8 76.2 32.3 72.2C30.8 68.2 29.3 63.7 29.3 60.1C29.3 56.6 30.4 54.1 32.3 51.1C34.2 48.1 38.6 45.6 40.6 42.1C42.6 38.6 44.0 34.1 44.4 30.1C44.7 26.1 43.0 21.2 42.9 18.0C42.7 14.9 43.0 12.8 43.6 11.3Z" fill="#8e8e8e" stroke="#8e8e8e" stroke-width="1"/><path d="M43.6 11.3C44.2 9.8 43.1 9.4 46.6 9.0C50.1 8.6 60.9 8.3 64.7 9.0C68.4 9.8 68.2 10.8 69.2 13.5C70.2 16.3 69.7 21.8 70.7 25.6C71.7 29.3 73.7 32.8 75.2 36.1C76.7 39.3 78.3 41.1 79.7 45.1C81.1 49.1 84.0 55.9 83.5 60.1C83.0 64.4 76.6 66.4 76.7 70.7C76.8 74.9 83.3 81.9 84.2 85.7C85.1 89.5 84.0 89.2 81.9 93.2C79.9 97.2 79.6 107.0 72.2 109.8C64.8 112.5 43.2 114.0 37.6 109.8C32.0 105.5 39.2 90.5 38.3 84.2C37.5 77.9 33.8 76.2 32.3 72.2C30.8 68.2 29.3 63.7 29.3 60.1C29.3 56.6 30.4 54.1 32.3 51.1C34.2 48.1 38.6 45.6 40.6 42.1C42.6 38.6 44.0 34.1 44.4 30.1C44.7 26.1 43.0 21.2 42.9 18.0C42.7 14.9 43.0 12.8 43.6 11.3Z" fill="#fff" filter="url(#fRough)"/></g><g filter="url(#fB5)" transform="rotate(0 51.4 60.6)" fill="#fff"><ellipse cx="51.4" cy="60.6" rx="4.3" ry="3.0"/><ellipse cx="49.0" cy="61.0" rx="3.0" ry="2.1"/><ellipse cx="54.1" cy="60.9" rx="2.7" ry="1.7"/></g></g><clipPath id="cp17"><rect x="1.20" y="-0.10" width="103.40" height="103.10"/></clipPath><g transform="translate(430 369)" clip-path="url(#cp17)"><rect x="1.20" y="-0.10" width="103.40" height="103.10" fill="#000"/><g filter="url(#fB3)"><g filter="url(#fEdge)"><path d="M5.3 43.3L15.2 40.2L45.5 38.7L69.8 39.2L71.4 43.3L85.0 41.8L98.7 44.8L101.7 50.1L101.0 75.9L85.0 78.9L60.7 80.5L42.5 80.5L41.0 76.7L22.8 75.9L7.6 75.9L5.3 68.3Z" fill="#f6a040"/></g><g filter="url(#fEdge)"><path d="M5.3 43.3L15.2 40.2L45.5 38.7L69.8 39.2L71.4 43.3L85.0 41.8L98.7 44.8L101.7 50.1L101.0 75.9L85.0 78.9L60.7 80.5L42.5 80.5L41.0 76.7L22.8 75.9L7.6 75.9L5.3 68.3Z" fill="#fff" filter="url(#fOr)"/></g><g filter="url(#fEdgeB)"><ellipse cx="50.1" cy="51.9" rx="7.6" ry="2.1" fill="#a9a9b0"/></g><g filter="url(#fEdgeB)"><ellipse cx="66.8" cy="56.2" rx="7.6" ry="2.3" fill="#a9a9b0"/></g><g filter="url(#fEdgeB)"><ellipse cx="22.8" cy="53.1" rx="2.3" ry="1.5" fill="#a9a9b0"/></g><g filter="url(#fEdgeB)"><ellipse cx="26.2" cy="59.6" rx="3.4" ry="1.1" fill="#a9a9b0"/></g><g filter="url(#fEdgeB)"><ellipse cx="70.6" cy="72.1" rx="1.5" ry="2.3" fill="#a9a9b0"/></g></g></g><clipPath id="cp18"><rect x="0.70" y="-0.10" width="103.50" height="103.10"/></clipPath><g transform="translate(537 369)" clip-path="url(#cp18)"><rect x="0.70" y="-0.10" width="103.50" height="103.10" fill="#000"/><g filter="url(#fB3)"><g filter="url(#fEdge)"><path d="M5.3 36.4L15.2 34.6L45.5 32.6L69.1 33.4L69.8 38.0L85.0 36.4L97.9 39.2L101.0 45.5L100.2 72.9L85.0 75.9L60.7 77.4L41.0 78.2L40.2 74.4L22.8 72.9L6.8 72.9L5.3 65.3Z" fill="#f6a040"/></g><g filter="url(#fEdge)"><path d="M5.3 36.4L15.2 34.6L45.5 32.6L69.1 33.4L69.8 38.0L85.0 36.4L97.9 39.2L101.0 45.5L100.2 72.9L85.0 75.9L60.7 77.4L41.0 78.2L40.2 74.4L22.8 72.9L6.8 72.9L5.3 65.3Z" fill="#fff" filter="url(#fOr2)"/></g><g filter="url(#fEdgeB)"><ellipse cx="47.1" cy="46.4" rx="6.1" ry="1.6" fill="#000"/></g><g filter="url(#fEdgeB)"><ellipse cx="69.1" cy="52.5" rx="3.8" ry="1.6" fill="#000"/></g><g filter="url(#fEdgeB)"><ellipse cx="69.5" cy="69.2" rx="1.9" ry="1.6" fill="#000"/></g><g filter="url(#fEdgeB)"><ellipse cx="26.6" cy="54.7" rx="2.3" ry="0.9" fill="#000"/></g></g></g>
<g font-family='&quot;Liberation Serif&quot;, &quot;DejaVu Serif&quot;, serif' font-weight="bold" fill="#000">
<rect x="61.30" y="654.00" width="30.30" height="38.30" fill="#ff0000"/>
<path d="M76.45 654.00V649.60M69.05 649.60H83.85" stroke="#111" stroke-width="0.95" fill="none"/>
<rect x="98.80" y="639.10" width="30.30" height="53.20" fill="#4a7309"/>
<path d="M113.95 639.10V635.10M106.55 635.10H121.35" stroke="#111" stroke-width="0.95" fill="none"/>
<rect x="155.00" y="620.20" width="30.30" height="72.10" fill="#ff0000"/>
<path d="M170.15 620.20V614.50M162.75 614.50H177.55" stroke="#111" stroke-width="0.95" fill="none"/>
<rect x="192.45" y="579.20" width="30.30" height="113.10" fill="#4a7309"/>
<path d="M207.60 579.20V573.10M200.20 573.10H215.00" stroke="#111" stroke-width="0.95" fill="none"/>
<path d="M48.50 541.20V692.30" stroke="#333" stroke-width="0.8" fill="none"/>
<path d="M45.30 692.30H236.10" stroke="#111" stroke-width="1.0" fill="none"/>
<text x="43.10" y="695.40" text-anchor="end" font-size="8.5">0</text>
<path d="M48.50 673.46h-1.6" stroke="#111" stroke-width="0.8"/>
<path d="M48.50 654.62h-3.1" stroke="#111" stroke-width="0.85"/>
<text x="43.10" y="657.73" text-anchor="end" font-size="8.5">5</text>
<path d="M48.50 635.79h-1.6" stroke="#111" stroke-width="0.8"/>
<path d="M48.50 616.95h-3.1" stroke="#111" stroke-width="0.85"/>
<text x="43.10" y="620.05" text-anchor="end" font-size="8.5">10</text>
<path d="M48.50 598.11h-1.6" stroke="#111" stroke-width="0.8"/>
<path d="M48.50 579.27h-3.1" stroke="#111" stroke-width="0.85"/>
<text x="43.10" y="582.38" text-anchor="end" font-size="8.5">15</text>
<path d="M48.50 560.44h-1.6" stroke="#111" stroke-width="0.8"/>
<path d="M48.50 541.60h-3.1" stroke="#111" stroke-width="0.85"/>
<text x="43.10" y="544.70" text-anchor="end" font-size="8.5">20</text>
<path d="M95.20 692.30v3" stroke="#111" stroke-width="0.8"/>
<path d="M188.88 692.30v3" stroke="#111" stroke-width="0.8"/>
<text x="95.20" y="706.10" text-anchor="middle" font-size="8.3">4W</text>
<text x="188.88" y="706.10" text-anchor="middle" font-size="8.3">8W</text>
<text transform="translate(31.30 616.65) rotate(-90)" text-anchor="middle" font-size="9.9" stroke="#000" stroke-width="0.2">BV/TV (%)</text>
<path d="M76.45 639.00V594.40H113.95V624.70" stroke="#111" stroke-width="0.85" fill="none"/>
<text x="95.20" y="592.10" text-anchor="middle" font-size="9.6" font-weight="normal" letter-spacing="-0.1" fill="#333">***</text>
<path d="M170.15 605.70V553.10H207.60V564.30" stroke="#111" stroke-width="0.85" fill="none"/>
<text x="188.88" y="551.10" text-anchor="middle" font-size="9.6" font-weight="normal" letter-spacing="-0.1" fill="#333">***</text>
<text x="170.15" y="612.60" text-anchor="middle" font-size="8" font-style="italic" fill="#111">###</text>
<text x="207.60" y="572.20" text-anchor="middle" font-size="8" font-style="italic" fill="#111">###</text>
</g>
<g font-family='&quot;Liberation Serif&quot;, &quot;DejaVu Serif&quot;, serif' font-weight="bold" fill="#000">
<rect x="278.70" y="601.90" width="30.30" height="90.40" fill="#ff0000"/>
<path d="M293.85 601.90V596.50M286.45 596.50H301.25" stroke="#111" stroke-width="0.95" fill="none"/>
<rect x="316.20" y="607.20" width="30.30" height="85.10" fill="#4a7309"/>
<path d="M331.35 607.20V599.50M323.95 599.50H338.75" stroke="#111" stroke-width="0.95" fill="none"/>
<rect x="372.40" y="581.60" width="30.30" height="110.70" fill="#ff0000"/>
<path d="M387.55 581.60V576.30M380.15 576.30H394.95" stroke="#111" stroke-width="0.95" fill="none"/>
<rect x="409.85" y="601.10" width="30.30" height="91.20" fill="#4a7309"/>
<path d="M425.00 601.10V595.60M417.60 595.60H432.40" stroke="#111" stroke-width="0.95" fill="none"/>
<path d="M265.70 541.20V692.30" stroke="#333" stroke-width="0.8" fill="none"/>
<path d="M262.50 692.30H453.30" stroke="#111" stroke-width="1.0" fill="none"/>
<text x="260.30" y="695.40" text-anchor="end" font-size="8.5">0</text>
<path d="M265.70 673.46h-1.6" stroke="#111" stroke-width="0.8"/>
<path d="M265.70 654.62h-3.1" stroke="#111" stroke-width="0.85"/>
<text x="260.30" y="657.73" text-anchor="end" font-size="8.5">5</text>
<path d="M265.70 635.79h-1.6" stroke="#111" stroke-width="0.8"/>
<path d="M265.70 616.95h-3.1" stroke="#111" stroke-width="0.85"/>
<text x="260.30" y="620.05" text-anchor="end" font-size="8.5">10</text>
<path d="M265.70 598.11h-1.6" stroke="#111" stroke-width="0.8"/>
<path d="M265.70 579.27h-3.1" stroke="#111" stroke-width="0.85"/>
<text x="260.30" y="582.38" text-anchor="end" font-size="8.5">15</text>
<path d="M265.70 560.44h-1.6" stroke="#111" stroke-width="0.8"/>
<path d="M265.70 541.60h-3.1" stroke="#111" stroke-width="0.85"/>
<text x="260.30" y="544.70" text-anchor="end" font-size="8.5">20</text>
<path d="M312.60 692.30v3" stroke="#111" stroke-width="0.8"/>
<path d="M406.27 692.30v3" stroke="#111" stroke-width="0.8"/>
<text x="312.60" y="706.10" text-anchor="middle" font-size="8.3">4W</text>
<text x="406.27" y="706.10" text-anchor="middle" font-size="8.3">8W</text>
<text transform="translate(248.80 616.65) rotate(-90)" text-anchor="middle" font-size="9.9" stroke="#000" stroke-width="0.2">BS/TV (1/mm)</text>
<path d="M387.55 563.60V550.80H425.00V589.50" stroke="#111" stroke-width="0.85" fill="none"/>
<text x="406.27" y="548.70" text-anchor="middle" font-size="9.6" font-weight="normal" letter-spacing="-0.1" fill="#333">***</text>
<text x="387.55" y="573.50" text-anchor="middle" font-size="8" font-style="italic" fill="#111">###</text>
</g>
<g font-family='&quot;Liberation Serif&quot;, &quot;DejaVu Serif&quot;, serif' font-weight="bold" fill="#000">
<rect x="502.10" y="661.60" width="30.30" height="30.70" fill="#ff0000"/>
<path d="M517.25 661.60V655.00M509.85 655.00H524.65" stroke="#111" stroke-width="0.95" fill="none"/>
<rect x="539.60" y="644.10" width="30.30" height="48.20" fill="#4a7309"/>
<path d="M554.75 644.10V638.20M547.35 638.20H562.15" stroke="#111" stroke-width="0.95" fill="none"/>
<rect x="595.80" y="624.10" width="30.30" height="68.20" fill="#ff0000"/>
<path d="M610.95 624.10V614.60M603.55 614.60H618.35" stroke="#111" stroke-width="0.95" fill="none"/>
<rect x="633.25" y="598.70" width="30.30" height="93.60" fill="#4a7309"/>
<path d="M648.40 598.70V590.30M641.00 590.30H655.80" stroke="#111" stroke-width="0.95" fill="none"/>
<path d="M488.80 541.20V692.30" stroke="#333" stroke-width="0.8" fill="none"/>
<path d="M485.60 692.30H676.40" stroke="#111" stroke-width="1.0" fill="none"/>
<text x="483.40" y="695.40" text-anchor="end" font-size="8.5">0.00</text>
<path d="M488.80 673.46h-1.6" stroke="#111" stroke-width="0.8"/>
<path d="M488.80 654.62h-3.1" stroke="#111" stroke-width="0.85"/>
<text x="483.40" y="657.73" text-anchor="end" font-size="8.5">0.02</text>
<path d="M488.80 635.79h-1.6" stroke="#111" stroke-width="0.8"/>
<path d="M488.80 616.95h-3.1" stroke="#111" stroke-width="0.85"/>
<text x="483.40" y="620.05" text-anchor="end" font-size="8.5">0.04</text>
<path d="M488.80 598.11h-1.6" stroke="#111" stroke-width="0.8"/>
<path d="M488.80 579.27h-3.1" stroke="#111" stroke-width="0.85"/>
<text x="483.40" y="582.38" text-anchor="end" font-size="8.5">0.06</text>
<path d="M488.80 560.44h-1.6" stroke="#111" stroke-width="0.8"/>
<path d="M488.80 541.60h-3.1" stroke="#111" stroke-width="0.85"/>
<text x="483.40" y="544.70" text-anchor="end" font-size="8.5">0.08</text>
<path d="M536.00 692.30v3" stroke="#111" stroke-width="0.8"/>
<path d="M629.67 692.30v3" stroke="#111" stroke-width="0.8"/>
<text x="536.00" y="706.10" text-anchor="middle" font-size="8.3">4W</text>
<text x="629.67" y="706.10" text-anchor="middle" font-size="8.3">8W</text>
<text transform="translate(465.60 616.65) rotate(-90)" text-anchor="middle" font-size="9.9" stroke="#000" stroke-width="0.2">Tb.Th (mm)</text>
<path d="M517.25 647.80V602.20H554.75V630.10" stroke="#111" stroke-width="0.85" fill="none"/>
<text x="536.00" y="600.00" text-anchor="middle" font-size="9.6" font-weight="normal" letter-spacing="-0.1" fill="#333">***</text>
<path d="M610.95 604.00V558.70H648.40V579.00" stroke="#111" stroke-width="0.85" fill="none"/>
<text x="629.67" y="556.70" text-anchor="middle" font-size="9.6" font-weight="normal" letter-spacing="-0.1" fill="#333">***</text>
<text x="610.95" y="613.90" text-anchor="middle" font-size="8" font-style="italic" fill="#111">###</text>
<text x="648.40" y="589.40" text-anchor="middle" font-size="8" font-style="italic" fill="#111">###</text>
</g>
<g font-family='&quot;Liberation Serif&quot;, &quot;DejaVu Serif&quot;, serif' font-weight="bold" fill="#000">
<rect x="61.30" y="850.00" width="30.30" height="31.90" fill="#ff0000"/>
<path d="M76.45 850.00V848.50M69.05 848.50H83.85" stroke="#111" stroke-width="0.95" fill="none"/>
<rect x="98.80" y="843.10" width="30.30" height="38.80" fill="#4a7309"/>
<path d="M113.95 843.10V838.90M106.55 838.90H121.35" stroke="#111" stroke-width="0.95" fill="none"/>
<rect x="155.00" y="810.10" width="30.30" height="71.80" fill="#ff0000"/>
<path d="M170.15 810.10V803.80M162.75 803.80H177.55" stroke="#111" stroke-width="0.95" fill="none"/>
<rect x="192.45" y="801.10" width="30.30" height="80.80" fill="#4a7309"/>
<path d="M207.60 801.10V793.50M200.20 793.50H215.00" stroke="#111" stroke-width="0.95" fill="none"/>
<path d="M48.50 731.20V881.90" stroke="#333" stroke-width="0.8" fill="none"/>
<path d="M45.30 881.90H236.10" stroke="#111" stroke-width="1.0" fill="none"/>
<text x="43.10" y="885.00" text-anchor="end" font-size="8.5">0.0</text>
<path d="M48.50 863.11h-1.6" stroke="#111" stroke-width="0.8"/>
<path d="M48.50 844.33h-3.1" stroke="#111" stroke-width="0.85"/>
<text x="43.10" y="847.43" text-anchor="end" font-size="8.5">1.5</text>
<path d="M48.50 825.54h-1.6" stroke="#111" stroke-width="0.8"/>
<path d="M48.50 806.75h-3.1" stroke="#111" stroke-width="0.85"/>
<text x="43.10" y="809.85" text-anchor="end" font-size="8.5">3.0</text>
<path d="M48.50 787.96h-1.6" stroke="#111" stroke-width="0.8"/>
<path d="M48.50 769.17h-3.1" stroke="#111" stroke-width="0.85"/>
<text x="43.10" y="772.27" text-anchor="end" font-size="8.5">4.5</text>
<path d="M48.50 750.39h-1.6" stroke="#111" stroke-width="0.8"/>
<path d="M48.50 731.60h-3.1" stroke="#111" stroke-width="0.85"/>
<text x="43.10" y="734.70" text-anchor="end" font-size="8.5">6.0</text>
<path d="M95.20 881.90v3" stroke="#111" stroke-width="0.8"/>
<path d="M188.88 881.90v3" stroke="#111" stroke-width="0.8"/>
<text x="95.20" y="895.70" text-anchor="middle" font-size="8.3">4W</text>
<text x="188.88" y="895.70" text-anchor="middle" font-size="8.3">8W</text>
<text transform="translate(29.50 806.45) rotate(-90)" text-anchor="middle" font-size="9.9" stroke="#000" stroke-width="0.2">Tb.N (1/mm)</text>
<path d="M76.45 840.00V797.70H113.95V829.70" stroke="#111" stroke-width="0.85" fill="none"/>
<text x="95.20" y="795.80" text-anchor="middle" font-size="9.6" font-weight="normal" letter-spacing="-0.1" fill="#333">**</text>
<path d="M170.15 792.40V750.50H207.60V782.60" stroke="#111" stroke-width="0.85" fill="none"/>
<text x="188.88" y="748.40" text-anchor="middle" font-size="9.6" font-weight="normal" letter-spacing="-0.1" fill="#333">*</text>
<text x="170.15" y="801.20" text-anchor="middle" font-size="8" font-style="italic" fill="#111">###</text>
<text x="207.60" y="791.30" text-anchor="middle" font-size="8" font-style="italic" fill="#111">###</text>
</g>
<g font-family='&quot;Liberation Serif&quot;, &quot;DejaVu Serif&quot;, serif' font-weight="bold" fill="#000">
<rect x="281.40" y="800.50" width="30.30" height="81.40" fill="#ff0000"/>
<path d="M296.55 800.50V794.80M289.15 794.80H303.95" stroke="#111" stroke-width="0.95" fill="none"/>
<rect x="318.90" y="801.60" width="30.30" height="80.30" fill="#4a7309"/>
<path d="M334.05 801.60V794.80M326.65 794.80H341.45" stroke="#111" stroke-width="0.95" fill="none"/>
<rect x="375.10" y="817.00" width="30.30" height="64.90" fill="#ff0000"/>
<path d="M390.25 817.00V811.50M382.85 811.50H397.65" stroke="#111" stroke-width="0.95" fill="none"/>
<rect x="412.55" y="825.90" width="30.30" height="56.00" fill="#4a7309"/>
<path d="M427.70 825.90V820.60M420.30 820.60H435.10" stroke="#111" stroke-width="0.95" fill="none"/>
<path d="M268.60 731.20V881.90" stroke="#333" stroke-width="0.8" fill="none"/>
<path d="M265.40 881.90H456.20" stroke="#111" stroke-width="1.0" fill="none"/>
<text x="263.20" y="885.00" text-anchor="end" font-size="8.5">0.0</text>
<path d="M268.60 863.11h-1.6" stroke="#111" stroke-width="0.8"/>
<path d="M268.60 844.33h-3.1" stroke="#111" stroke-width="0.85"/>
<text x="263.20" y="847.43" text-anchor="end" font-size="8.5">0.2</text>
<path d="M268.60 825.54h-1.6" stroke="#111" stroke-width="0.8"/>
<path d="M268.60 806.75h-3.1" stroke="#111" stroke-width="0.85"/>
<text x="263.20" y="809.85" text-anchor="end" font-size="8.5">0.4</text>
<path d="M268.60 787.96h-1.6" stroke="#111" stroke-width="0.8"/>
<path d="M268.60 769.17h-3.1" stroke="#111" stroke-width="0.85"/>
<text x="263.20" y="772.27" text-anchor="end" font-size="8.5">0.6</text>
<path d="M268.60 750.39h-1.6" stroke="#111" stroke-width="0.8"/>
<path d="M268.60 731.60h-3.1" stroke="#111" stroke-width="0.85"/>
<text x="263.20" y="734.70" text-anchor="end" font-size="8.5">0.8</text>
<path d="M315.30 881.90v3" stroke="#111" stroke-width="0.8"/>
<path d="M408.98 881.90v3" stroke="#111" stroke-width="0.8"/>
<text x="315.30" y="895.70" text-anchor="middle" font-size="8.3">4W</text>
<text x="408.98" y="895.70" text-anchor="middle" font-size="8.3">8W</text>
<text transform="translate(249.20 806.45) rotate(-90)" text-anchor="middle" font-size="9.9" stroke="#000" stroke-width="0.2">Tb.sp (mm)</text>
<path d="M390.25 798.40V773.40H427.70V809.40" stroke="#111" stroke-width="0.85" fill="none"/>
<text x="408.98" y="770.90" text-anchor="middle" font-size="9.6" font-weight="normal" letter-spacing="-0.1" fill="#333">*</text>
<text x="390.25" y="809.50" text-anchor="middle" font-size="8" font-style="italic" fill="#111">###</text>
<text x="427.70" y="819.00" text-anchor="middle" font-size="8" font-style="italic" fill="#111">###</text>
</g>
<g font-family='&quot;Liberation Serif&quot;, &quot;DejaVu Serif&quot;, serif' font-weight="bold" fill="#000">
<rect x="505.20" y="855.20" width="30.30" height="26.70" fill="#ff0000"/>
<path d="M520.35 855.20V852.50M512.95 852.50H527.75" stroke="#111" stroke-width="0.95" fill="none"/>
<rect x="542.70" y="843.30" width="30.30" height="38.60" fill="#4a7309"/>
<path d="M557.85 843.30V840.70M550.45 840.70H565.25" stroke="#111" stroke-width="0.95" fill="none"/>
<rect x="598.90" y="812.40" width="30.30" height="69.50" fill="#ff0000"/>
<path d="M614.05 812.40V804.60M606.65 804.60H621.45" stroke="#111" stroke-width="0.95" fill="none"/>
<rect x="636.35" y="798.10" width="30.30" height="83.80" fill="#4a7309"/>
<path d="M651.50 798.10V793.50M644.10 793.50H658.90" stroke="#111" stroke-width="0.95" fill="none"/>
<path d="M492.20 731.20V881.90" stroke="#333" stroke-width="0.8" fill="none"/>
<path d="M489.00 881.90H679.80" stroke="#111" stroke-width="1.0" fill="none"/>
<text x="486.80" y="885.00" text-anchor="end" font-size="8.5">0.0</text>
<path d="M492.20 863.11h-1.6" stroke="#111" stroke-width="0.8"/>
<path d="M492.20 844.33h-3.1" stroke="#111" stroke-width="0.85"/>
<text x="486.80" y="847.43" text-anchor="end" font-size="8.5">0.5</text>
<path d="M492.20 825.54h-1.6" stroke="#111" stroke-width="0.8"/>
<path d="M492.20 806.75h-3.1" stroke="#111" stroke-width="0.85"/>
<text x="486.80" y="809.85" text-anchor="end" font-size="8.5">1.0</text>
<path d="M492.20 787.96h-1.6" stroke="#111" stroke-width="0.8"/>
<path d="M492.20 769.17h-3.1" stroke="#111" stroke-width="0.85"/>
<text x="486.80" y="772.27" text-anchor="end" font-size="8.5">1.5</text>
<path d="M492.20 750.39h-1.6" stroke="#111" stroke-width="0.8"/>
<path d="M492.20 731.60h-3.1" stroke="#111" stroke-width="0.85"/>
<text x="486.80" y="734.70" text-anchor="end" font-size="8.5">2.0</text>
<path d="M539.10 881.90v3" stroke="#111" stroke-width="0.8"/>
<path d="M632.78 881.90v3" stroke="#111" stroke-width="0.8"/>
<text x="539.10" y="895.70" text-anchor="middle" font-size="8.3">4W</text>
<text x="632.78" y="895.70" text-anchor="middle" font-size="8.3">8W</text>
<text transform="translate(473.10 806.45) rotate(-90)" text-anchor="middle" font-size="9.9" stroke="#000" stroke-width="0.2">BMD (g/cm³)</text>
<path d="M520.35 842.50V802.70H557.85V829.70" stroke="#111" stroke-width="0.85" fill="none"/>
<text x="539.10" y="800.70" text-anchor="middle" font-size="9.6" font-weight="normal" letter-spacing="-0.1" fill="#333">***</text>
<path d="M614.05 791.50V750.80H651.50V780.30" stroke="#111" stroke-width="0.85" fill="none"/>
<text x="632.78" y="748.40" text-anchor="middle" font-size="9.6" font-weight="normal" letter-spacing="-0.1" fill="#333">**</text>
<text x="614.05" y="802.00" text-anchor="middle" font-size="8" font-style="italic" fill="#111">###</text>
<text x="651.50" y="790.80" text-anchor="middle" font-size="8" font-style="italic" fill="#111">###</text>
</g>
<rect x="286.9" y="913" width="12.3" height="12.3" fill="#ff0000"/>
<rect x="375.8" y="913" width="12.4" height="12.3" fill="#4a7309"/>
<g font-family='&quot;Liberation Serif&quot;, &quot;DejaVu Serif&quot;, serif' fill="#000" font-size="16.9">
<text x="300.4" y="925.2">PTa</text><text x="390.2" y="925.2">CGF-PTa</text></g>
</svg>
</body></html>
